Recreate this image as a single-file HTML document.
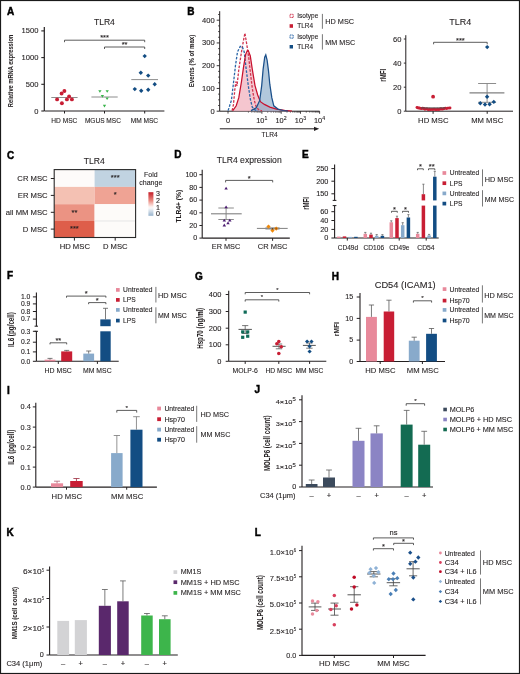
<!DOCTYPE html>
<html><head><meta charset="utf-8"><title>Figure</title>
<style>
html,body{margin:0;padding:0;background:#fff;}
body{width:520px;height:674px;overflow:hidden;}
svg{display:block;will-change:transform;}
text{font-family:"Liberation Sans", sans-serif;stroke:currentColor;stroke-width:0.1px;}
</style></head><body>
<svg width="520" height="674" viewBox="0 0 520 674">
<rect x="0" y="0" width="520" height="674" fill="#fff"/>
<text x="7" y="14.5" font-size="10" text-anchor="start" fill="#000" color="#000" font-weight="bold" style="stroke-width:0.45px">A</text>
<text x="104.4" y="25" font-size="8.7" text-anchor="middle" fill="#231f20" color="#231f20" textLength="21" lengthAdjust="spacingAndGlyphs">TLR4</text>
<line x1="44.3" y1="27" x2="44.3" y2="111" stroke="#231f20" stroke-width="1.2"/>
<line x1="41.3" y1="30.9" x2="44.3" y2="30.9" stroke="#231f20" stroke-width="1.08"/>
<text x="38.4" y="33.42" font-size="7" text-anchor="end" fill="#231f20" color="#231f20" textLength="16.82" lengthAdjust="spacingAndGlyphs">1500</text>
<line x1="41.3" y1="57.6" x2="44.3" y2="57.6" stroke="#231f20" stroke-width="1.08"/>
<text x="38.4" y="60.12" font-size="7" text-anchor="end" fill="#231f20" color="#231f20" textLength="16.82" lengthAdjust="spacingAndGlyphs">1000</text>
<line x1="41.3" y1="84.3" x2="44.3" y2="84.3" stroke="#231f20" stroke-width="1.08"/>
<text x="38.4" y="86.82" font-size="7" text-anchor="end" fill="#231f20" color="#231f20" textLength="12.61" lengthAdjust="spacingAndGlyphs">500</text>
<line x1="41.3" y1="111" x2="44.3" y2="111" stroke="#231f20" stroke-width="1.08"/>
<text x="38.4" y="113.52" font-size="7" text-anchor="end" fill="#231f20" color="#231f20" textLength="4.2" lengthAdjust="spacingAndGlyphs">0</text>
<text x="13.35" y="70.9" font-size="6.67" text-anchor="middle" fill="#231f20" color="#231f20" textLength="72.5" lengthAdjust="spacingAndGlyphs" transform="rotate(-90 13.35 70.9)" font-weight="bold" style="stroke-width:0.05px">Relative mRNA expression</text>
<line x1="44.5" y1="111" x2="164.4" y2="111" stroke="#231f20" stroke-width="1"/>
<line x1="64.5" y1="111" x2="64.5" y2="113.5" stroke="#231f20" stroke-width="1"/>
<line x1="104.5" y1="111" x2="104.5" y2="113.5" stroke="#231f20" stroke-width="1"/>
<line x1="144.7" y1="111" x2="144.7" y2="113.5" stroke="#231f20" stroke-width="1"/>
<text x="64.3" y="122.5" font-size="6.6" text-anchor="middle" fill="#231f20" color="#231f20" textLength="26" lengthAdjust="spacingAndGlyphs">HD MSC</text>
<text x="102.9" y="122.5" font-size="6.6" text-anchor="middle" fill="#231f20" color="#231f20" textLength="36" lengthAdjust="spacingAndGlyphs">MGUS MSC</text>
<text x="144.4" y="122.5" font-size="6.6" text-anchor="middle" fill="#231f20" color="#231f20" textLength="27.5" lengthAdjust="spacingAndGlyphs">MM MSC</text>
<path d="M64.5 42.2L64.5 40.2L144.7 40.2L144.7 42.2" stroke="#333" stroke-width="0.8" fill="none"/>
<text x="104.6" y="40.49" font-size="7" text-anchor="middle" fill="#231f20" color="#231f20" textLength="8.83" lengthAdjust="spacingAndGlyphs">***</text>
<path d="M104.5 49L104.5 47L144.7 47L144.7 49" stroke="#333" stroke-width="0.8" fill="none"/>
<text x="124.6" y="47.29" font-size="7" text-anchor="middle" fill="#231f20" color="#231f20" textLength="5.88" lengthAdjust="spacingAndGlyphs">**</text>
<line x1="51.3" y1="97.5" x2="77.6" y2="97.5" stroke="#808080" stroke-width="0.9"/>
<circle cx="64.4" cy="91" r="1.95" fill="#c81e34"/>
<circle cx="61.6" cy="93.5" r="1.95" fill="#c81e34"/>
<circle cx="69.1" cy="96.5" r="1.95" fill="#c81e34"/>
<circle cx="57.1" cy="99.4" r="1.95" fill="#c81e34"/>
<circle cx="66.9" cy="99.4" r="1.95" fill="#c81e34"/>
<circle cx="71.9" cy="99.4" r="1.95" fill="#c81e34"/>
<circle cx="61.9" cy="103.2" r="1.95" fill="#c81e34"/>
<line x1="91.4" y1="97" x2="117.7" y2="97" stroke="#808080" stroke-width="0.9"/>
<path d="M98.25 90.14L101.55 90.14L99.9 92.78Z" fill="#38b34a"/>
<path d="M105.55 90.14L108.85 90.14L107.2 92.78Z" fill="#38b34a"/>
<path d="M100.75 95.05L104.05 95.05L102.4 97.69Z" fill="#38b34a"/>
<path d="M105.45 97.44L108.75 97.44L107.1 100.08Z" fill="#38b34a"/>
<path d="M102.85 104.84L106.15 104.84L104.5 107.48Z" fill="#38b34a"/>
<path d="M144.7 53.9L146.9 56.1L144.7 58.3L142.5 56.1Z" fill="#134d83"/>
<path d="M140.8 70.5L143 72.7L140.8 74.9L138.6 72.7Z" fill="#134d83"/>
<path d="M148.2 73.4L150.4 75.6L148.2 77.8L146 75.6Z" fill="#134d83"/>
<path d="M154.7 82.1L156.9 84.3L154.7 86.5L152.5 84.3Z" fill="#134d83"/>
<path d="M134.8 86.9L137 89.1L134.8 91.3L132.6 89.1Z" fill="#134d83"/>
<path d="M141.2 88.6L143.4 90.8L141.2 93L139 90.8Z" fill="#134d83"/>
<path d="M148.2 87.5L150.4 89.7L148.2 91.9L146 89.7Z" fill="#134d83"/>
<line x1="131.3" y1="79.6" x2="158" y2="79.6" stroke="#808080" stroke-width="0.9"/>
<text x="187.3" y="14.5" font-size="10" text-anchor="start" fill="#000" color="#000" font-weight="bold" style="stroke-width:0.45px">B</text>
<line x1="219.7" y1="11.2" x2="219.7" y2="111.2" stroke="#231f20" stroke-width="1"/>
<line x1="216.7" y1="111.2" x2="219.7" y2="111.2" stroke="#231f20" stroke-width="0.9"/>
<text x="214.6" y="113.7" font-size="7" text-anchor="end" fill="#231f20" color="#231f20" textLength="4.2" lengthAdjust="spacingAndGlyphs">0</text>
<line x1="218.1" y1="105.51" x2="219.7" y2="105.51" stroke="#231f20" stroke-width="0.8"/>
<line x1="218.1" y1="99.83" x2="219.7" y2="99.83" stroke="#231f20" stroke-width="0.8"/>
<line x1="218.1" y1="94.14" x2="219.7" y2="94.14" stroke="#231f20" stroke-width="0.8"/>
<line x1="216.7" y1="88.45" x2="219.7" y2="88.45" stroke="#231f20" stroke-width="0.9"/>
<text x="214.6" y="90.95" font-size="7" text-anchor="end" fill="#231f20" color="#231f20" textLength="12.61" lengthAdjust="spacingAndGlyphs">100</text>
<line x1="218.1" y1="82.76" x2="219.7" y2="82.76" stroke="#231f20" stroke-width="0.8"/>
<line x1="218.1" y1="77.08" x2="219.7" y2="77.08" stroke="#231f20" stroke-width="0.8"/>
<line x1="218.1" y1="71.39" x2="219.7" y2="71.39" stroke="#231f20" stroke-width="0.8"/>
<line x1="216.7" y1="65.7" x2="219.7" y2="65.7" stroke="#231f20" stroke-width="0.9"/>
<text x="214.6" y="68.2" font-size="7" text-anchor="end" fill="#231f20" color="#231f20" textLength="12.61" lengthAdjust="spacingAndGlyphs">200</text>
<line x1="218.1" y1="60.01" x2="219.7" y2="60.01" stroke="#231f20" stroke-width="0.8"/>
<line x1="218.1" y1="54.33" x2="219.7" y2="54.33" stroke="#231f20" stroke-width="0.8"/>
<line x1="218.1" y1="48.64" x2="219.7" y2="48.64" stroke="#231f20" stroke-width="0.8"/>
<line x1="216.7" y1="42.95" x2="219.7" y2="42.95" stroke="#231f20" stroke-width="0.9"/>
<text x="214.6" y="45.45" font-size="7" text-anchor="end" fill="#231f20" color="#231f20" textLength="12.61" lengthAdjust="spacingAndGlyphs">300</text>
<line x1="218.1" y1="37.26" x2="219.7" y2="37.26" stroke="#231f20" stroke-width="0.8"/>
<line x1="218.1" y1="31.58" x2="219.7" y2="31.58" stroke="#231f20" stroke-width="0.8"/>
<line x1="218.1" y1="25.89" x2="219.7" y2="25.89" stroke="#231f20" stroke-width="0.8"/>
<line x1="216.7" y1="20.2" x2="219.7" y2="20.2" stroke="#231f20" stroke-width="0.9"/>
<text x="214.6" y="22.7" font-size="7" text-anchor="end" fill="#231f20" color="#231f20" textLength="12.61" lengthAdjust="spacingAndGlyphs">400</text>
<line x1="218.1" y1="14.51" x2="219.7" y2="14.51" stroke="#231f20" stroke-width="0.8"/>
<text x="194.1" y="61" font-size="8.05" text-anchor="middle" fill="#231f20" color="#231f20" textLength="52.4" lengthAdjust="spacingAndGlyphs" transform="rotate(-90 194.1 61)" font-weight="bold" style="stroke-width:0.05px">Events (% of max)</text>
<line x1="219.7" y1="111.2" x2="319.6" y2="111.2" stroke="#231f20" stroke-width="1"/>
<line x1="228" y1="111.2" x2="228" y2="113.6" stroke="#231f20" stroke-width="0.8"/>
<line x1="261.9" y1="111.2" x2="261.9" y2="113.8" stroke="#231f20" stroke-width="0.8"/>
<line x1="281.2" y1="111.2" x2="281.2" y2="113.8" stroke="#231f20" stroke-width="0.8"/>
<line x1="300.5" y1="111.2" x2="300.5" y2="113.8" stroke="#231f20" stroke-width="0.8"/>
<line x1="319.6" y1="111.2" x2="319.6" y2="113.8" stroke="#231f20" stroke-width="0.8"/>
<line x1="267.71" y1="111.2" x2="267.71" y2="112.7" stroke="#231f20" stroke-width="0.6"/>
<line x1="271.11" y1="111.2" x2="271.11" y2="112.7" stroke="#231f20" stroke-width="0.6"/>
<line x1="273.52" y1="111.2" x2="273.52" y2="112.7" stroke="#231f20" stroke-width="0.6"/>
<line x1="275.39" y1="111.2" x2="275.39" y2="112.7" stroke="#231f20" stroke-width="0.6"/>
<line x1="276.92" y1="111.2" x2="276.92" y2="112.7" stroke="#231f20" stroke-width="0.6"/>
<line x1="278.21" y1="111.2" x2="278.21" y2="112.7" stroke="#231f20" stroke-width="0.6"/>
<line x1="279.33" y1="111.2" x2="279.33" y2="112.7" stroke="#231f20" stroke-width="0.6"/>
<line x1="280.32" y1="111.2" x2="280.32" y2="112.7" stroke="#231f20" stroke-width="0.6"/>
<line x1="287.01" y1="111.2" x2="287.01" y2="112.7" stroke="#231f20" stroke-width="0.6"/>
<line x1="290.41" y1="111.2" x2="290.41" y2="112.7" stroke="#231f20" stroke-width="0.6"/>
<line x1="292.82" y1="111.2" x2="292.82" y2="112.7" stroke="#231f20" stroke-width="0.6"/>
<line x1="294.69" y1="111.2" x2="294.69" y2="112.7" stroke="#231f20" stroke-width="0.6"/>
<line x1="296.22" y1="111.2" x2="296.22" y2="112.7" stroke="#231f20" stroke-width="0.6"/>
<line x1="297.51" y1="111.2" x2="297.51" y2="112.7" stroke="#231f20" stroke-width="0.6"/>
<line x1="298.63" y1="111.2" x2="298.63" y2="112.7" stroke="#231f20" stroke-width="0.6"/>
<line x1="299.62" y1="111.2" x2="299.62" y2="112.7" stroke="#231f20" stroke-width="0.6"/>
<line x1="306.31" y1="111.2" x2="306.31" y2="112.7" stroke="#231f20" stroke-width="0.6"/>
<line x1="309.71" y1="111.2" x2="309.71" y2="112.7" stroke="#231f20" stroke-width="0.6"/>
<line x1="312.12" y1="111.2" x2="312.12" y2="112.7" stroke="#231f20" stroke-width="0.6"/>
<line x1="313.99" y1="111.2" x2="313.99" y2="112.7" stroke="#231f20" stroke-width="0.6"/>
<line x1="315.52" y1="111.2" x2="315.52" y2="112.7" stroke="#231f20" stroke-width="0.6"/>
<line x1="316.81" y1="111.2" x2="316.81" y2="112.7" stroke="#231f20" stroke-width="0.6"/>
<line x1="317.93" y1="111.2" x2="317.93" y2="112.7" stroke="#231f20" stroke-width="0.6"/>
<line x1="318.92" y1="111.2" x2="318.92" y2="112.7" stroke="#231f20" stroke-width="0.6"/>
<line x1="248.41" y1="111.2" x2="248.41" y2="112.7" stroke="#231f20" stroke-width="0.6"/>
<line x1="251.81" y1="111.2" x2="251.81" y2="112.7" stroke="#231f20" stroke-width="0.6"/>
<line x1="254.22" y1="111.2" x2="254.22" y2="112.7" stroke="#231f20" stroke-width="0.6"/>
<line x1="256.09" y1="111.2" x2="256.09" y2="112.7" stroke="#231f20" stroke-width="0.6"/>
<line x1="257.62" y1="111.2" x2="257.62" y2="112.7" stroke="#231f20" stroke-width="0.6"/>
<line x1="258.91" y1="111.2" x2="258.91" y2="112.7" stroke="#231f20" stroke-width="0.6"/>
<line x1="260.03" y1="111.2" x2="260.03" y2="112.7" stroke="#231f20" stroke-width="0.6"/>
<line x1="261.02" y1="111.2" x2="261.02" y2="112.7" stroke="#231f20" stroke-width="0.6"/>
<text x="228.1" y="122.8" font-size="6.8" text-anchor="middle" fill="#231f20" color="#231f20" textLength="4.08" lengthAdjust="spacingAndGlyphs">0</text>
<text x="260.3" y="122.8" font-size="6.6" text-anchor="middle" fill="#231f20" color="#231f20" textLength="8.2" lengthAdjust="spacingAndGlyphs">10</text>
<text x="266" y="119.6" font-size="4.8" text-anchor="middle" fill="#231f20" color="#231f20" textLength="2.88" lengthAdjust="spacingAndGlyphs">1</text>
<text x="279.6" y="122.8" font-size="6.6" text-anchor="middle" fill="#231f20" color="#231f20" textLength="8.2" lengthAdjust="spacingAndGlyphs">10</text>
<text x="285.3" y="119.6" font-size="4.8" text-anchor="middle" fill="#231f20" color="#231f20" textLength="2.88" lengthAdjust="spacingAndGlyphs">2</text>
<text x="298.9" y="122.8" font-size="6.6" text-anchor="middle" fill="#231f20" color="#231f20" textLength="8.2" lengthAdjust="spacingAndGlyphs">10</text>
<text x="304.6" y="119.6" font-size="4.8" text-anchor="middle" fill="#231f20" color="#231f20" textLength="2.88" lengthAdjust="spacingAndGlyphs">3</text>
<text x="318" y="122.8" font-size="6.6" text-anchor="middle" fill="#231f20" color="#231f20" textLength="8.2" lengthAdjust="spacingAndGlyphs">10</text>
<text x="323.7" y="119.6" font-size="4.8" text-anchor="middle" fill="#231f20" color="#231f20" textLength="2.88" lengthAdjust="spacingAndGlyphs">4</text>
<line x1="219.8" y1="128.8" x2="315" y2="128.8" stroke="#231f20" stroke-width="1"/>
<path d="M314 126.7L319.2 128.8L314 130.9Z" stroke="none" stroke-width="1" fill="#231f20"/>
<text x="269.6" y="137.3" font-size="7" text-anchor="middle" fill="#231f20" color="#231f20" textLength="16.2" lengthAdjust="spacingAndGlyphs">TLR4</text>
<path d="M232.8 110.6L236.2 105.8L238.8 97.7L241.5 81.5L243.6 66.7L245.6 54.6L247.2 50.8L248.3 50.6L250.3 56L252.3 69.4L255 85.6L257.7 95L260.4 101.7L264.4 104.4L269.8 107.1L276.5 109.1L284.6 110.4L292 111L292 111.2L232.8 111.2Z" stroke="none" stroke-width="1" fill="#f1b3bf" fill-opacity="0.75"/>
<path d="M251 110.6L256.3 107.8L259.7 100.4L261.7 85.6L263.1 69.4L264.7 57.3L265.8 54.9L267.1 60L268.5 70.8L269.8 84.2L271.8 97.7L273.8 105.8L277.9 109.1L283.3 110.5L288 111L288 111.2L251 111.2Z" stroke="none" stroke-width="1" fill="#7fa3c4" fill-opacity="0.6"/>
<path d="M232.1 110.6L233.5 104.4L234.8 89.6L235.9 81.5L237 86L238.8 69.4L241.5 51.9L243.6 39.8L244.9 33.1L246.9 45.2L248.9 58.6L250.3 72.1L252.3 88.3L254.3 100.4L256.3 107.1L259 110L262 110.8" stroke="#d0344f" stroke-width="1.3" fill="none" stroke-dasharray="2.6 1.4"/>
<path d="M228.1 110.6L231.4 100.4L233.5 82.9L235.5 65.4L237.5 51.9L240.2 46.5L242.2 46.5L244.2 51.9L246.2 69.4L248.3 85.6L250.3 99L252.3 107.1L255 110L258 110.8" stroke="#2b66a8" stroke-width="1.3" fill="none" stroke-dasharray="2.6 1.4"/>
<path d="M232.8 110.6L236.2 105.8L238.8 97.7L241.5 81.5L243.6 66.7L245.6 54.6L247.2 50.8L248.3 50.6L250.3 56L252.3 69.4L255 85.6L257.7 95L260.4 101.7L264.4 104.4L269.8 107.1L276.5 109.1L284.6 110.4L292 111" stroke="#c8102e" stroke-width="1.25" fill="none"/>
<path d="M251 110.6L256.3 107.8L259.7 100.4L261.7 85.6L263.1 69.4L264.7 57.3L265.8 54.9L267.1 60L268.5 70.8L269.8 84.2L271.8 97.7L273.8 105.8L277.9 109.1L283.3 110.5L288 111" stroke="#1a4f8a" stroke-width="1.25" fill="none"/>
<rect x="290" y="14.3" width="3.2" height="3.2" fill="none" stroke="#d0344f" stroke-width="0.9" stroke-dasharray="1.2 0.4"/>
<text x="297.3" y="18.3" font-size="6.51" text-anchor="start" fill="#231f20" color="#231f20" textLength="21" lengthAdjust="spacingAndGlyphs">Isotype</text>
<rect x="289.6" y="24.2" width="3.4" height="3.6" fill="#c81e34"/>
<text x="297.3" y="28.4" font-size="6.46" text-anchor="start" fill="#231f20" color="#231f20" textLength="15.8" lengthAdjust="spacingAndGlyphs">TLR4</text>
<line x1="322.4" y1="13.9" x2="322.4" y2="28.8" stroke="#555" stroke-width="0.8"/>
<text x="325.3" y="23.8" font-size="7.3" text-anchor="start" fill="#231f20" color="#231f20" textLength="28.8" lengthAdjust="spacingAndGlyphs">HD MSC</text>
<rect x="290" y="35" width="3.2" height="3.2" fill="none" stroke="#2b66a8" stroke-width="0.9" stroke-dasharray="1.2 0.4"/>
<text x="297.3" y="39" font-size="6.51" text-anchor="start" fill="#231f20" color="#231f20" textLength="21" lengthAdjust="spacingAndGlyphs">Isotype</text>
<rect x="289.6" y="45" width="3.4" height="3.5" fill="#134d83"/>
<text x="297.3" y="49.2" font-size="6.46" text-anchor="start" fill="#231f20" color="#231f20" textLength="15.8" lengthAdjust="spacingAndGlyphs">TLR4</text>
<line x1="322.4" y1="34.2" x2="322.4" y2="49.6" stroke="#555" stroke-width="0.8"/>
<text x="325.3" y="44.5" font-size="7.2" text-anchor="start" fill="#231f20" color="#231f20" textLength="30" lengthAdjust="spacingAndGlyphs">MM MSC</text>
<text x="460.3" y="24.6" font-size="8.8" text-anchor="middle" fill="#231f20" color="#231f20" textLength="22" lengthAdjust="spacingAndGlyphs">TLR4</text>
<line x1="405.8" y1="35.2" x2="405.8" y2="111.2" stroke="#231f20" stroke-width="1"/>
<line x1="403.8" y1="39" x2="405.8" y2="39" stroke="#231f20" stroke-width="0.9"/>
<text x="401.4" y="41.52" font-size="7" text-anchor="end" fill="#231f20" color="#231f20" textLength="8.41" lengthAdjust="spacingAndGlyphs">60</text>
<line x1="403.8" y1="63.1" x2="405.8" y2="63.1" stroke="#231f20" stroke-width="0.9"/>
<text x="401.4" y="65.62" font-size="7" text-anchor="end" fill="#231f20" color="#231f20" textLength="8.41" lengthAdjust="spacingAndGlyphs">40</text>
<line x1="403.8" y1="87.2" x2="405.8" y2="87.2" stroke="#231f20" stroke-width="0.9"/>
<text x="401.4" y="89.72" font-size="7" text-anchor="end" fill="#231f20" color="#231f20" textLength="8.41" lengthAdjust="spacingAndGlyphs">20</text>
<line x1="403.8" y1="111.2" x2="405.8" y2="111.2" stroke="#231f20" stroke-width="0.9"/>
<text x="401.4" y="113.72" font-size="7" text-anchor="end" fill="#231f20" color="#231f20" textLength="4.2" lengthAdjust="spacingAndGlyphs">0</text>
<text x="386" y="75.3" font-size="9.11" text-anchor="middle" fill="#231f20" color="#231f20" textLength="12.8" lengthAdjust="spacingAndGlyphs" transform="rotate(-90 386 75.3)" font-weight="bold" style="stroke-width:0.05px">rMFI</text>
<line x1="405.8" y1="111.2" x2="513" y2="111.2" stroke="#231f20" stroke-width="1"/>
<line x1="433.1" y1="111.2" x2="433.1" y2="113.8" stroke="#231f20" stroke-width="1"/>
<line x1="487.2" y1="111.2" x2="487.2" y2="113.8" stroke="#231f20" stroke-width="1"/>
<text x="433.3" y="123.1" font-size="7.4" text-anchor="middle" fill="#231f20" color="#231f20" textLength="30.5" lengthAdjust="spacingAndGlyphs">HD MSC</text>
<text x="487.2" y="123.1" font-size="7.4" text-anchor="middle" fill="#231f20" color="#231f20" textLength="32" lengthAdjust="spacingAndGlyphs">MM MSC</text>
<path d="M433.6 44.3L433.6 42.3L487.2 42.3L487.2 44.3" stroke="#333" stroke-width="0.8" fill="none"/>
<text x="460.4" y="42.59" font-size="7" text-anchor="middle" fill="#231f20" color="#231f20" textLength="8.83" lengthAdjust="spacingAndGlyphs">***</text>
<circle cx="417" cy="107.49" r="1.45" fill="#c81e34"/>
<circle cx="418.14" cy="107.96" r="1.45" fill="#c81e34"/>
<circle cx="419.28" cy="108.03" r="1.45" fill="#c81e34"/>
<circle cx="420.41" cy="108.41" r="1.45" fill="#c81e34"/>
<circle cx="421.55" cy="108.61" r="1.45" fill="#c81e34"/>
<circle cx="422.69" cy="108.32" r="1.45" fill="#c81e34"/>
<circle cx="423.83" cy="108.43" r="1.45" fill="#c81e34"/>
<circle cx="424.97" cy="109.22" r="1.45" fill="#c81e34"/>
<circle cx="426.1" cy="108.87" r="1.45" fill="#c81e34"/>
<circle cx="427.24" cy="108.94" r="1.45" fill="#c81e34"/>
<circle cx="428.38" cy="109.63" r="1.45" fill="#c81e34"/>
<circle cx="429.52" cy="109.28" r="1.45" fill="#c81e34"/>
<circle cx="430.66" cy="109.62" r="1.45" fill="#c81e34"/>
<circle cx="431.79" cy="109.36" r="1.45" fill="#c81e34"/>
<circle cx="432.93" cy="109.51" r="1.45" fill="#c81e34"/>
<circle cx="434.07" cy="109.12" r="1.45" fill="#c81e34"/>
<circle cx="435.21" cy="109.49" r="1.45" fill="#c81e34"/>
<circle cx="436.34" cy="109.64" r="1.45" fill="#c81e34"/>
<circle cx="437.48" cy="109.32" r="1.45" fill="#c81e34"/>
<circle cx="438.62" cy="109.43" r="1.45" fill="#c81e34"/>
<circle cx="439.76" cy="109.29" r="1.45" fill="#c81e34"/>
<circle cx="440.9" cy="108.71" r="1.45" fill="#c81e34"/>
<circle cx="442.03" cy="109.15" r="1.45" fill="#c81e34"/>
<circle cx="443.17" cy="108.89" r="1.45" fill="#c81e34"/>
<circle cx="444.31" cy="108.51" r="1.45" fill="#c81e34"/>
<circle cx="445.45" cy="108.13" r="1.45" fill="#c81e34"/>
<circle cx="446.59" cy="108.62" r="1.45" fill="#c81e34"/>
<circle cx="447.72" cy="108.11" r="1.45" fill="#c81e34"/>
<circle cx="448.86" cy="108.1" r="1.45" fill="#c81e34"/>
<circle cx="450" cy="108" r="1.45" fill="#c81e34"/>
<circle cx="433.1" cy="96.7" r="1.9" fill="#c81e34"/>
<line x1="421" y1="107.9" x2="445.5" y2="107.9" stroke="#505050" stroke-width="1"/>
<line x1="487.1" y1="83.5" x2="487.1" y2="102.3" stroke="#808080" stroke-width="0.9"/>
<line x1="478.1" y1="83.5" x2="496.1" y2="83.5" stroke="#808080" stroke-width="0.9"/>
<line x1="478.1" y1="102.3" x2="496.1" y2="102.3" stroke="#808080" stroke-width="0.9"/>
<line x1="469.5" y1="92.9" x2="504.4" y2="92.9" stroke="#808080" stroke-width="1.1"/>
<path d="M487.2 44.9L489.4 47.1L487.2 49.3L485 47.1Z" fill="#134d83"/>
<path d="M487.1 94.6L489.3 96.8L487.1 99L484.9 96.8Z" fill="#134d83"/>
<path d="M480.3 101.1L482.5 103.3L480.3 105.5L478.1 103.3Z" fill="#134d83"/>
<path d="M485 102.3L487.2 104.5L485 106.7L482.8 104.5Z" fill="#134d83"/>
<path d="M489.6 102.1L491.8 104.3L489.6 106.5L487.4 104.3Z" fill="#134d83"/>
<path d="M493.8 99.7L496 101.9L493.8 104.1L491.6 101.9Z" fill="#134d83"/>
<text x="6.9" y="158.6" font-size="10" text-anchor="start" fill="#000" color="#000" font-weight="bold" style="stroke-width:0.45px">C</text>
<text x="94.2" y="163.5" font-size="8.7" text-anchor="middle" fill="#231f20" color="#231f20" textLength="21" lengthAdjust="spacingAndGlyphs">TLR4</text>
<rect x="54.2" y="169.6" width="40.4" height="17.3" fill="#fdfbfa"/>
<rect x="94.6" y="169.6" width="41" height="17.3" fill="#c1d3e1"/>
<rect x="54.2" y="186.9" width="40.4" height="17.3" fill="#f4c1b3"/>
<rect x="94.6" y="186.9" width="41" height="17.3" fill="#efa394"/>
<rect x="54.2" y="204.2" width="40.4" height="16.8" fill="#eb9383"/>
<rect x="94.6" y="204.2" width="41" height="16.8" fill="#fdfbf9"/>
<rect x="54.2" y="221" width="40.4" height="16.5" fill="#de5e4a"/>
<rect x="94.6" y="221" width="41" height="16.5" fill="#fdfbf9"/>
<line x1="94.6" y1="221" x2="135.6" y2="221" stroke="#d8d8d8" stroke-width="0.6"/>
<rect x="54.2" y="169.6" width="81.4" height="67.9" fill="none" stroke="#2a2a2a" stroke-width="1.1"/>
<text x="115.2" y="180.49" font-size="7" text-anchor="middle" fill="#231f20" color="#231f20" textLength="8.83" lengthAdjust="spacingAndGlyphs">***</text>
<text x="115.2" y="197.29" font-size="7" text-anchor="middle" fill="#231f20" color="#231f20" textLength="2.94" lengthAdjust="spacingAndGlyphs">*</text>
<text x="74.4" y="214.59" font-size="7" text-anchor="middle" fill="#231f20" color="#231f20" textLength="5.88" lengthAdjust="spacingAndGlyphs">**</text>
<text x="74.4" y="230.89" font-size="7" text-anchor="middle" fill="#231f20" color="#231f20" textLength="8.83" lengthAdjust="spacingAndGlyphs">***</text>
<line x1="50.8" y1="178.5" x2="54.2" y2="178.5" stroke="#231f20" stroke-width="1"/>
<text x="47.6" y="181.1" font-size="7.1" text-anchor="end" fill="#231f20" color="#231f20" textLength="30.25" lengthAdjust="spacingAndGlyphs">CR MSC</text>
<line x1="50.8" y1="195.4" x2="54.2" y2="195.4" stroke="#231f20" stroke-width="1"/>
<text x="47.6" y="198" font-size="7.1" text-anchor="end" fill="#231f20" color="#231f20" textLength="29.82" lengthAdjust="spacingAndGlyphs">ER MSC</text>
<line x1="50.8" y1="212.3" x2="54.2" y2="212.3" stroke="#231f20" stroke-width="1"/>
<text x="47.6" y="214.9" font-size="7.1" text-anchor="end" fill="#231f20" color="#231f20" textLength="41.75" lengthAdjust="spacingAndGlyphs">all MM MSC</text>
<line x1="50.8" y1="229.1" x2="54.2" y2="229.1" stroke="#231f20" stroke-width="1"/>
<text x="47.6" y="231.7" font-size="7.1" text-anchor="end" fill="#231f20" color="#231f20" textLength="24.71" lengthAdjust="spacingAndGlyphs">D MSC</text>
<line x1="74.4" y1="237.5" x2="74.4" y2="240.6" stroke="#231f20" stroke-width="1"/>
<line x1="115.2" y1="237.5" x2="115.2" y2="240.6" stroke="#231f20" stroke-width="1"/>
<text x="74.8" y="249.3" font-size="7.1" text-anchor="middle" fill="#231f20" color="#231f20" textLength="30.3" lengthAdjust="spacingAndGlyphs">HD MSC</text>
<text x="115.2" y="249.3" font-size="7.1" text-anchor="middle" fill="#231f20" color="#231f20" textLength="24.6" lengthAdjust="spacingAndGlyphs">D MSC</text>
<text x="150.8" y="176.8" font-size="7.2" text-anchor="middle" fill="#231f20" color="#231f20" textLength="13.5" lengthAdjust="spacingAndGlyphs">Fold</text>
<text x="150.8" y="185.4" font-size="7.2" text-anchor="middle" fill="#231f20" color="#231f20" textLength="23.2" lengthAdjust="spacingAndGlyphs">change</text>
<defs><linearGradient id="fc" x1="0" y1="0" x2="0" y2="1"><stop offset="0" stop-color="#c51f2b"/><stop offset="0.35" stop-color="#ea8a80"/><stop offset="0.62" stop-color="#fdf2ef"/><stop offset="0.68" stop-color="#f6f7f9"/><stop offset="1" stop-color="#97b3cd"/></linearGradient></defs>
<rect x="148.4" y="192.2" width="5" height="23.6" fill="url(#fc)"/>
<text x="157.9" y="195.7" font-size="6.6" text-anchor="middle" fill="#231f20" color="#231f20" textLength="3.96" lengthAdjust="spacingAndGlyphs">3</text>
<text x="157.9" y="203" font-size="6.6" text-anchor="middle" fill="#231f20" color="#231f20" textLength="3.96" lengthAdjust="spacingAndGlyphs">2</text>
<text x="157.9" y="210" font-size="6.6" text-anchor="middle" fill="#231f20" color="#231f20" textLength="3.96" lengthAdjust="spacingAndGlyphs">1</text>
<text x="157.9" y="216.2" font-size="6.6" text-anchor="middle" fill="#231f20" color="#231f20" textLength="3.96" lengthAdjust="spacingAndGlyphs">0</text>
<text x="174.3" y="158.3" font-size="10" text-anchor="start" fill="#000" color="#000" font-weight="bold" style="stroke-width:0.45px">D</text>
<text x="249.2" y="163" font-size="8.7" text-anchor="middle" fill="#231f20" color="#231f20" textLength="65" lengthAdjust="spacingAndGlyphs">TLR4 expression</text>
<line x1="202.2" y1="169.7" x2="202.2" y2="238.1" stroke="#231f20" stroke-width="1.1"/>
<line x1="199.4" y1="174.7" x2="202.2" y2="174.7" stroke="#231f20" stroke-width="0.99"/>
<text x="197.3" y="177.08" font-size="6.6" text-anchor="end" fill="#231f20" color="#231f20" textLength="11.89" lengthAdjust="spacingAndGlyphs">100</text>
<line x1="199.4" y1="187.4" x2="202.2" y2="187.4" stroke="#231f20" stroke-width="0.99"/>
<text x="197.3" y="189.78" font-size="6.6" text-anchor="end" fill="#231f20" color="#231f20" textLength="7.93" lengthAdjust="spacingAndGlyphs">80</text>
<line x1="199.4" y1="200.1" x2="202.2" y2="200.1" stroke="#231f20" stroke-width="0.99"/>
<text x="197.3" y="202.48" font-size="6.6" text-anchor="end" fill="#231f20" color="#231f20" textLength="7.93" lengthAdjust="spacingAndGlyphs">60</text>
<line x1="199.4" y1="212.8" x2="202.2" y2="212.8" stroke="#231f20" stroke-width="0.99"/>
<text x="197.3" y="215.18" font-size="6.6" text-anchor="end" fill="#231f20" color="#231f20" textLength="7.93" lengthAdjust="spacingAndGlyphs">40</text>
<line x1="199.4" y1="225.5" x2="202.2" y2="225.5" stroke="#231f20" stroke-width="0.99"/>
<text x="197.3" y="227.88" font-size="6.6" text-anchor="end" fill="#231f20" color="#231f20" textLength="7.93" lengthAdjust="spacingAndGlyphs">20</text>
<line x1="199.4" y1="238.1" x2="202.2" y2="238.1" stroke="#231f20" stroke-width="0.99"/>
<text x="197.3" y="240.48" font-size="6.6" text-anchor="end" fill="#231f20" color="#231f20" textLength="3.96" lengthAdjust="spacingAndGlyphs">0</text>
<text x="181.3" y="206.2" font-size="7.92" text-anchor="middle" fill="#231f20" color="#231f20" textLength="32.6" lengthAdjust="spacingAndGlyphs" transform="rotate(-90 181.3 206.2)" font-weight="bold" style="stroke-width:0.05px">TLR4+ (%)</text>
<line x1="202.2" y1="238.1" x2="289.8" y2="238.1" stroke="#231f20" stroke-width="1.1"/>
<line x1="226" y1="238.1" x2="226" y2="240.8" stroke="#231f20" stroke-width="1"/>
<line x1="272.6" y1="238.1" x2="272.6" y2="240.8" stroke="#231f20" stroke-width="1"/>
<text x="226" y="249" font-size="7" text-anchor="middle" fill="#231f20" color="#231f20" textLength="28.5" lengthAdjust="spacingAndGlyphs">ER MSC</text>
<text x="272.6" y="249" font-size="7" text-anchor="middle" fill="#231f20" color="#231f20" textLength="29.6" lengthAdjust="spacingAndGlyphs">CR MSC</text>
<path d="M225.6 182.4L225.6 180.4L272.7 180.4L272.7 182.4" stroke="#333" stroke-width="0.8" fill="none"/>
<text x="249.15" y="180.69" font-size="7" text-anchor="middle" fill="#231f20" color="#231f20" textLength="2.94" lengthAdjust="spacingAndGlyphs">*</text>
<line x1="211" y1="213.8" x2="241.7" y2="213.8" stroke="#808080" stroke-width="1.1"/>
<line x1="226.1" y1="208" x2="226.1" y2="219.5" stroke="#808080" stroke-width="0.9"/>
<line x1="218.35" y1="208" x2="233.85" y2="208" stroke="#808080" stroke-width="0.9"/>
<line x1="218.35" y1="219.5" x2="233.85" y2="219.5" stroke="#808080" stroke-width="0.9"/>
<path d="M224.35 189.53L227.85 189.53L226.1 186.73Z" fill="#4b1a70"/>
<path d="M224.35 208.32L227.85 208.32L226.1 205.53Z" fill="#4b1a70"/>
<path d="M222.55 221.62L226.05 221.62L224.3 218.83Z" fill="#4b1a70"/>
<path d="M228.05 221.62L231.55 221.62L229.8 218.83Z" fill="#4b1a70"/>
<path d="M226.25 224.22L229.75 224.22L228 221.43Z" fill="#4b1a70"/>
<path d="M222.55 226.42L226.05 226.42L224.3 223.62Z" fill="#4b1a70"/>
<line x1="256.9" y1="228.4" x2="287.7" y2="228.4" stroke="#808080" stroke-width="1"/>
<rect x="265.4" y="227.4" width="14.2" height="2.1" fill="#8a8a8a"/>
<path d="M268.5 224.5L270.6 226.6L268.5 228.7L266.4 226.6Z" fill="#f0890a"/>
<path d="M272.5 228.5L274.6 230.6L272.5 232.7L270.4 230.6Z" fill="#f0890a"/>
<path d="M276.2 226.5L278.3 228.6L276.2 230.7L274.1 228.6Z" fill="#f0890a"/>
<path d="M271.4 229.57L273.6 229.57L272.5 227.81Z" fill="#5a3a1a"/>
<path d="M276.2 227.4L277.4 228.6L276.2 229.8L275 228.6Z" fill="#a85a10"/>
<text x="301.9" y="158.4" font-size="10" text-anchor="start" fill="#000" color="#000" font-weight="bold" style="stroke-width:0.45px">E</text>
<line x1="334.6" y1="164.4" x2="334.6" y2="200.4" stroke="#231f20" stroke-width="1.1"/>
<line x1="332.7" y1="200.4" x2="336.4" y2="200.4" stroke="#231f20" stroke-width="1"/>
<line x1="332.7" y1="205.6" x2="336.4" y2="205.6" stroke="#231f20" stroke-width="1"/>
<line x1="334.6" y1="205.6" x2="334.6" y2="238" stroke="#231f20" stroke-width="1.1"/>
<line x1="331.4" y1="168.6" x2="334.6" y2="168.6" stroke="#231f20" stroke-width="1"/>
<text x="328.4" y="171" font-size="6.8" text-anchor="end" fill="#231f20" color="#231f20" textLength="12.25" lengthAdjust="spacingAndGlyphs">250</text>
<line x1="331.4" y1="181.2" x2="334.6" y2="181.2" stroke="#231f20" stroke-width="1"/>
<text x="328.4" y="183.6" font-size="6.8" text-anchor="end" fill="#231f20" color="#231f20" textLength="12.25" lengthAdjust="spacingAndGlyphs">200</text>
<line x1="331.4" y1="193.8" x2="334.6" y2="193.8" stroke="#231f20" stroke-width="1"/>
<text x="328.4" y="196.2" font-size="6.8" text-anchor="end" fill="#231f20" color="#231f20" textLength="12.25" lengthAdjust="spacingAndGlyphs">150</text>
<line x1="331.4" y1="211.7" x2="334.6" y2="211.7" stroke="#231f20" stroke-width="1"/>
<text x="328.4" y="214.1" font-size="6.8" text-anchor="end" fill="#231f20" color="#231f20" textLength="8.17" lengthAdjust="spacingAndGlyphs">60</text>
<line x1="331.4" y1="220.5" x2="334.6" y2="220.5" stroke="#231f20" stroke-width="1"/>
<text x="328.4" y="222.9" font-size="6.8" text-anchor="end" fill="#231f20" color="#231f20" textLength="8.17" lengthAdjust="spacingAndGlyphs">40</text>
<line x1="331.4" y1="229.4" x2="334.6" y2="229.4" stroke="#231f20" stroke-width="1"/>
<text x="328.4" y="231.8" font-size="6.8" text-anchor="end" fill="#231f20" color="#231f20" textLength="8.17" lengthAdjust="spacingAndGlyphs">20</text>
<line x1="331.4" y1="238" x2="334.6" y2="238" stroke="#231f20" stroke-width="1"/>
<text x="328.4" y="240.4" font-size="6.8" text-anchor="end" fill="#231f20" color="#231f20" textLength="4.08" lengthAdjust="spacingAndGlyphs">0</text>
<text x="309.1" y="203.4" font-size="8.58" text-anchor="middle" fill="#231f20" color="#231f20" textLength="12.7" lengthAdjust="spacingAndGlyphs" transform="rotate(-90 309.1 203.4)" font-weight="bold" style="stroke-width:0.05px">rMFI</text>
<line x1="334.6" y1="238" x2="438.7" y2="238" stroke="#231f20" stroke-width="1.1"/>
<line x1="347.3" y1="238" x2="347.3" y2="240.6" stroke="#231f20" stroke-width="1"/>
<line x1="373.8" y1="238" x2="373.8" y2="240.6" stroke="#231f20" stroke-width="1"/>
<line x1="399.2" y1="238" x2="399.2" y2="240.6" stroke="#231f20" stroke-width="1"/>
<line x1="426.2" y1="238" x2="426.2" y2="240.6" stroke="#231f20" stroke-width="1"/>
<text x="347.9" y="249.7" font-size="6.6" text-anchor="middle" fill="#231f20" color="#231f20" textLength="20.4" lengthAdjust="spacingAndGlyphs">CD49d</text>
<text x="373.8" y="249.7" font-size="6.6" text-anchor="middle" fill="#231f20" color="#231f20" textLength="20.5" lengthAdjust="spacingAndGlyphs">CD106</text>
<text x="399.3" y="249.7" font-size="6.6" text-anchor="middle" fill="#231f20" color="#231f20" textLength="20.3" lengthAdjust="spacingAndGlyphs">CD49e</text>
<text x="425.9" y="249.7" font-size="6.6" text-anchor="middle" fill="#231f20" color="#231f20" textLength="17.2" lengthAdjust="spacingAndGlyphs">CD54</text>
<rect x="337.05" y="236.6" width="3.5" height="1.4" fill="#e8899b"/>
<rect x="342.75" y="236.4" width="3.5" height="1.6" fill="#c81e34"/>
<rect x="348.45" y="236.9" width="3.5" height="1.1" fill="#88aacb"/>
<rect x="354.15" y="236.8" width="3.5" height="1.2" fill="#134d83"/>
<rect x="363.55" y="233.8" width="3.5" height="4.2" fill="#e8899b"/>
<line x1="365.3" y1="232.4" x2="365.3" y2="233.8" stroke="#5a5a5a" stroke-width="0.7"/>
<line x1="364.2" y1="232.4" x2="366.4" y2="232.4" stroke="#5a5a5a" stroke-width="0.7"/>
<rect x="369.25" y="234.6" width="3.5" height="3.4" fill="#c81e34"/>
<line x1="371" y1="233.2" x2="371" y2="234.6" stroke="#5a5a5a" stroke-width="0.7"/>
<line x1="369.9" y1="233.2" x2="372.1" y2="233.2" stroke="#5a5a5a" stroke-width="0.7"/>
<rect x="374.95" y="235.8" width="3.5" height="2.2" fill="#88aacb"/>
<line x1="376.7" y1="234.6" x2="376.7" y2="235.8" stroke="#5a5a5a" stroke-width="0.7"/>
<line x1="375.6" y1="234.6" x2="377.8" y2="234.6" stroke="#5a5a5a" stroke-width="0.7"/>
<rect x="380.65" y="235.8" width="3.5" height="2.2" fill="#134d83"/>
<line x1="382.4" y1="234.6" x2="382.4" y2="235.8" stroke="#5a5a5a" stroke-width="0.7"/>
<line x1="381.3" y1="234.6" x2="383.5" y2="234.6" stroke="#5a5a5a" stroke-width="0.7"/>
<rect x="389.55" y="222.3" width="3.5" height="15.7" fill="#e8899b"/>
<line x1="391.3" y1="220.8" x2="391.3" y2="222.3" stroke="#5a5a5a" stroke-width="0.7"/>
<line x1="390.2" y1="220.8" x2="392.4" y2="220.8" stroke="#5a5a5a" stroke-width="0.7"/>
<rect x="395.25" y="218.1" width="3.5" height="19.9" fill="#c81e34"/>
<line x1="397" y1="216.2" x2="397" y2="218.1" stroke="#5a5a5a" stroke-width="0.7"/>
<line x1="395.9" y1="216.2" x2="398.1" y2="216.2" stroke="#5a5a5a" stroke-width="0.7"/>
<rect x="400.95" y="225.2" width="3.5" height="12.8" fill="#88aacb"/>
<line x1="402.7" y1="222.7" x2="402.7" y2="225.2" stroke="#5a5a5a" stroke-width="0.7"/>
<line x1="401.6" y1="222.7" x2="403.8" y2="222.7" stroke="#5a5a5a" stroke-width="0.7"/>
<rect x="406.65" y="217.5" width="3.5" height="20.5" fill="#134d83"/>
<line x1="408.4" y1="214.6" x2="408.4" y2="217.5" stroke="#5a5a5a" stroke-width="0.7"/>
<line x1="407.3" y1="214.6" x2="409.5" y2="214.6" stroke="#5a5a5a" stroke-width="0.7"/>
<rect x="415.95" y="233.8" width="3.5" height="4.2" fill="#e8899b"/>
<line x1="417.7" y1="232.4" x2="417.7" y2="233.8" stroke="#5a5a5a" stroke-width="0.7"/>
<line x1="416.6" y1="232.4" x2="418.8" y2="232.4" stroke="#5a5a5a" stroke-width="0.7"/>
<rect x="427.35" y="235.4" width="3.5" height="2.6" fill="#88aacb"/>
<line x1="429.1" y1="234.4" x2="429.1" y2="235.4" stroke="#5a5a5a" stroke-width="0.7"/>
<line x1="428" y1="234.4" x2="430.2" y2="234.4" stroke="#5a5a5a" stroke-width="0.7"/>
<rect x="421.65" y="205.6" width="3.5" height="32.4" fill="#c81e34"/>
<rect x="421.65" y="194.2" width="3.5" height="6.2" fill="#c81e34"/>
<line x1="423.4" y1="184.2" x2="423.4" y2="194.2" stroke="#5a5a5a" stroke-width="0.7"/>
<line x1="422.3" y1="184.2" x2="424.5" y2="184.2" stroke="#5a5a5a" stroke-width="0.7"/>
<rect x="433.05" y="205.6" width="3.5" height="32.4" fill="#134d83"/>
<rect x="433.05" y="176.7" width="3.5" height="23.7" fill="#134d83"/>
<line x1="434.8" y1="171.3" x2="434.8" y2="176.7" stroke="#5a5a5a" stroke-width="0.7"/>
<line x1="433.7" y1="171.3" x2="435.9" y2="171.3" stroke="#5a5a5a" stroke-width="0.7"/>
<path d="M391.5 212.7L391.5 211.3L397.3 211.3L397.3 212.7" stroke="#333" stroke-width="0.8" fill="none"/>
<text x="394.4" y="211.59" font-size="7" text-anchor="middle" fill="#231f20" color="#231f20" textLength="2.94" lengthAdjust="spacingAndGlyphs">*</text>
<path d="M402.5 212.7L402.5 211.3L408.5 211.3L408.5 212.7" stroke="#333" stroke-width="0.8" fill="none"/>
<text x="405.5" y="211.59" font-size="7" text-anchor="middle" fill="#231f20" color="#231f20" textLength="2.94" lengthAdjust="spacingAndGlyphs">*</text>
<path d="M417.5 170.2L417.5 168.8L423.3 168.8L423.3 170.2" stroke="#333" stroke-width="0.8" fill="none"/>
<text x="420.4" y="169.09" font-size="7" text-anchor="middle" fill="#231f20" color="#231f20" textLength="2.94" lengthAdjust="spacingAndGlyphs">*</text>
<path d="M428.5 170.2L428.5 168.8L434.8 168.8L434.8 170.2" stroke="#333" stroke-width="0.8" fill="none"/>
<text x="431.65" y="169.09" font-size="7" text-anchor="middle" fill="#231f20" color="#231f20" textLength="5.88" lengthAdjust="spacingAndGlyphs">**</text>
<rect x="442.5" y="171.15" width="3.7" height="3.7" fill="#e8899b"/>
<text x="449.8" y="175.4" font-size="6.69" text-anchor="start" fill="#231f20" color="#231f20" textLength="29.4" lengthAdjust="spacingAndGlyphs">Untreated</text>
<rect x="442.5" y="181.35" width="3.7" height="3.7" fill="#c81e34"/>
<text x="449.8" y="185.6" font-size="6.67" text-anchor="start" fill="#231f20" color="#231f20" textLength="12.6" lengthAdjust="spacingAndGlyphs">LPS</text>
<rect x="442.5" y="191.55" width="3.7" height="3.7" fill="#88aacb"/>
<text x="449.8" y="195.8" font-size="6.69" text-anchor="start" fill="#231f20" color="#231f20" textLength="29.4" lengthAdjust="spacingAndGlyphs">Untreated</text>
<rect x="442.5" y="201.75" width="3.7" height="3.7" fill="#134d83"/>
<text x="449.8" y="206" font-size="6.67" text-anchor="start" fill="#231f20" color="#231f20" textLength="12.6" lengthAdjust="spacingAndGlyphs">LPS</text>
<line x1="482.5" y1="169.4" x2="482.5" y2="186.2" stroke="#555" stroke-width="0.8"/>
<text x="484.8" y="181.5" font-size="7.3" text-anchor="start" fill="#231f20" color="#231f20" textLength="28.8" lengthAdjust="spacingAndGlyphs">HD MSC</text>
<line x1="482.5" y1="190.2" x2="482.5" y2="206.5" stroke="#555" stroke-width="0.8"/>
<text x="484.8" y="201.9" font-size="7.01" text-anchor="start" fill="#231f20" color="#231f20" textLength="29.2" lengthAdjust="spacingAndGlyphs">MM MSC</text>
<text x="7.1" y="279.4" font-size="10" text-anchor="start" fill="#000" color="#000" font-weight="bold" style="stroke-width:0.45px">F</text>
<line x1="36.4" y1="292.5" x2="36.4" y2="326.2" stroke="#231f20" stroke-width="1.1"/>
<line x1="34.6" y1="326.2" x2="38" y2="326.2" stroke="#231f20" stroke-width="1"/>
<line x1="34.6" y1="331.3" x2="38" y2="331.3" stroke="#231f20" stroke-width="1"/>
<line x1="36.4" y1="331.3" x2="36.4" y2="361.3" stroke="#231f20" stroke-width="1.1"/>
<line x1="32.9" y1="296.9" x2="36.4" y2="296.9" stroke="#231f20" stroke-width="1"/>
<text x="30.4" y="299.1" font-size="6.3" text-anchor="end" fill="#231f20" color="#231f20" textLength="9.46" lengthAdjust="spacingAndGlyphs">1.0</text>
<line x1="32.9" y1="303.9" x2="36.4" y2="303.9" stroke="#231f20" stroke-width="1"/>
<text x="30.4" y="306.1" font-size="6.3" text-anchor="end" fill="#231f20" color="#231f20" textLength="9.46" lengthAdjust="spacingAndGlyphs">0.9</text>
<line x1="32.9" y1="311.5" x2="36.4" y2="311.5" stroke="#231f20" stroke-width="1"/>
<text x="30.4" y="313.7" font-size="6.3" text-anchor="end" fill="#231f20" color="#231f20" textLength="9.46" lengthAdjust="spacingAndGlyphs">0.8</text>
<line x1="32.9" y1="319.1" x2="36.4" y2="319.1" stroke="#231f20" stroke-width="1"/>
<text x="30.4" y="321.3" font-size="6.3" text-anchor="end" fill="#231f20" color="#231f20" textLength="9.46" lengthAdjust="spacingAndGlyphs">0.7</text>
<line x1="32.9" y1="331.3" x2="36.4" y2="331.3" stroke="#231f20" stroke-width="1"/>
<text x="30.4" y="333.5" font-size="6.3" text-anchor="end" fill="#231f20" color="#231f20" textLength="9.46" lengthAdjust="spacingAndGlyphs">0.3</text>
<line x1="32.9" y1="342.2" x2="36.4" y2="342.2" stroke="#231f20" stroke-width="1"/>
<text x="30.4" y="344.4" font-size="6.3" text-anchor="end" fill="#231f20" color="#231f20" textLength="9.46" lengthAdjust="spacingAndGlyphs">0.2</text>
<line x1="32.9" y1="351.9" x2="36.4" y2="351.9" stroke="#231f20" stroke-width="1"/>
<text x="30.4" y="354.1" font-size="6.3" text-anchor="end" fill="#231f20" color="#231f20" textLength="9.46" lengthAdjust="spacingAndGlyphs">0.1</text>
<line x1="32.9" y1="361.3" x2="36.4" y2="361.3" stroke="#231f20" stroke-width="1"/>
<text x="30.4" y="363.5" font-size="6.3" text-anchor="end" fill="#231f20" color="#231f20" textLength="9.46" lengthAdjust="spacingAndGlyphs">0.0</text>
<text x="13.9" y="329.5" font-size="8.84" text-anchor="middle" fill="#231f20" color="#231f20" textLength="34.9" lengthAdjust="spacingAndGlyphs" transform="rotate(-90 13.9 329.5)" font-weight="bold" style="stroke-width:0.05px">IL6 (pg/cell)</text>
<line x1="36.4" y1="361.3" x2="118.7" y2="361.3" stroke="#231f20" stroke-width="1.1"/>
<line x1="58.3" y1="361.3" x2="58.3" y2="363.9" stroke="#231f20" stroke-width="1"/>
<line x1="97.4" y1="361.3" x2="97.4" y2="363.9" stroke="#231f20" stroke-width="1"/>
<text x="58.2" y="373" font-size="7" text-anchor="middle" fill="#231f20" color="#231f20" textLength="27.3" lengthAdjust="spacingAndGlyphs">HD MSC</text>
<text x="97.3" y="373" font-size="7" text-anchor="middle" fill="#231f20" color="#231f20" textLength="28.6" lengthAdjust="spacingAndGlyphs">MM MSC</text>
<rect x="44.6" y="359.7" width="10.8" height="1.6" fill="#e8899b"/>
<line x1="50" y1="358.4" x2="50" y2="359.7" stroke="#5a5a5a" stroke-width="0.8"/>
<line x1="47.5" y1="358.4" x2="52.5" y2="358.4" stroke="#5a5a5a" stroke-width="0.8"/>
<rect x="61.2" y="351.4" width="11" height="9.9" fill="#c81e34"/>
<line x1="66.7" y1="350.4" x2="66.7" y2="351.4" stroke="#5a5a5a" stroke-width="0.8"/>
<line x1="64.2" y1="350.4" x2="69.2" y2="350.4" stroke="#5a5a5a" stroke-width="0.8"/>
<rect x="83.3" y="353.6" width="10.8" height="7.7" fill="#88aacb"/>
<line x1="88.7" y1="351" x2="88.7" y2="353.6" stroke="#5a5a5a" stroke-width="0.8"/>
<line x1="86.2" y1="351" x2="91.2" y2="351" stroke="#5a5a5a" stroke-width="0.8"/>
<rect x="100.3" y="331.3" width="10.4" height="30" fill="#134d83"/>
<rect x="100.3" y="319.4" width="10.4" height="6.8" fill="#134d83"/>
<line x1="105.5" y1="308.3" x2="105.5" y2="319.4" stroke="#5a5a5a" stroke-width="0.8"/>
<line x1="103" y1="308.3" x2="108" y2="308.3" stroke="#5a5a5a" stroke-width="0.8"/>
<path d="M50 344.4L50 342.8L66.7 342.8L66.7 344.4" stroke="#333" stroke-width="0.8" fill="none"/>
<text x="58.35" y="343.09" font-size="7" text-anchor="middle" fill="#231f20" color="#231f20" textLength="5.88" lengthAdjust="spacingAndGlyphs">**</text>
<path d="M66.5 297.7L66.5 296.1L105.9 296.1L105.9 297.7" stroke="#333" stroke-width="0.8" fill="none"/>
<text x="86.2" y="296.39" font-size="7" text-anchor="middle" fill="#231f20" color="#231f20" textLength="2.94" lengthAdjust="spacingAndGlyphs">*</text>
<path d="M88.6 304.2L88.6 302.6L105.9 302.6L105.9 304.2" stroke="#333" stroke-width="0.8" fill="none"/>
<text x="97.25" y="302.89" font-size="7" text-anchor="middle" fill="#231f20" color="#231f20" textLength="2.94" lengthAdjust="spacingAndGlyphs">*</text>
<rect x="116" y="288.05" width="3.7" height="3.7" fill="#e8899b"/>
<text x="123.1" y="292.3" font-size="6.69" text-anchor="start" fill="#231f20" color="#231f20" textLength="29.4" lengthAdjust="spacingAndGlyphs">Untreated</text>
<rect x="116" y="298.05" width="3.7" height="3.7" fill="#c81e34"/>
<text x="123.1" y="302.3" font-size="6.67" text-anchor="start" fill="#231f20" color="#231f20" textLength="12.6" lengthAdjust="spacingAndGlyphs">LPS</text>
<rect x="116" y="308.05" width="3.7" height="3.7" fill="#88aacb"/>
<text x="123.1" y="312.3" font-size="6.69" text-anchor="start" fill="#231f20" color="#231f20" textLength="29.4" lengthAdjust="spacingAndGlyphs">Untreated</text>
<rect x="116" y="318.75" width="3.7" height="3.7" fill="#134d83"/>
<text x="123.1" y="323" font-size="6.67" text-anchor="start" fill="#231f20" color="#231f20" textLength="12.6" lengthAdjust="spacingAndGlyphs">LPS</text>
<line x1="155.9" y1="286.9" x2="155.9" y2="302.5" stroke="#555" stroke-width="0.8"/>
<text x="157.9" y="297.5" font-size="7.35" text-anchor="start" fill="#231f20" color="#231f20" textLength="29" lengthAdjust="spacingAndGlyphs">HD MSC</text>
<line x1="155.9" y1="307.3" x2="155.9" y2="323.3" stroke="#555" stroke-width="0.8"/>
<text x="157.9" y="318.1" font-size="6.96" text-anchor="start" fill="#231f20" color="#231f20" textLength="29" lengthAdjust="spacingAndGlyphs">MM MSC</text>
<text x="195" y="280.1" font-size="10" text-anchor="start" fill="#000" color="#000" font-weight="bold" style="stroke-width:0.45px">G</text>
<line x1="228.7" y1="290.7" x2="228.7" y2="361.3" stroke="#231f20" stroke-width="1.1"/>
<line x1="225.7" y1="294.5" x2="228.7" y2="294.5" stroke="#231f20" stroke-width="0.99"/>
<text x="221.3" y="296.98" font-size="6.9" text-anchor="end" fill="#231f20" color="#231f20" textLength="12.43" lengthAdjust="spacingAndGlyphs">400</text>
<line x1="225.7" y1="311.5" x2="228.7" y2="311.5" stroke="#231f20" stroke-width="0.99"/>
<text x="221.3" y="313.98" font-size="6.9" text-anchor="end" fill="#231f20" color="#231f20" textLength="12.43" lengthAdjust="spacingAndGlyphs">300</text>
<line x1="225.7" y1="328.2" x2="228.7" y2="328.2" stroke="#231f20" stroke-width="0.99"/>
<text x="221.3" y="330.68" font-size="6.9" text-anchor="end" fill="#231f20" color="#231f20" textLength="12.43" lengthAdjust="spacingAndGlyphs">200</text>
<line x1="225.7" y1="344.8" x2="228.7" y2="344.8" stroke="#231f20" stroke-width="0.99"/>
<text x="221.3" y="347.28" font-size="6.9" text-anchor="end" fill="#231f20" color="#231f20" textLength="12.43" lengthAdjust="spacingAndGlyphs">100</text>
<line x1="225.7" y1="361.3" x2="228.7" y2="361.3" stroke="#231f20" stroke-width="0.99"/>
<text x="221.3" y="363.78" font-size="6.9" text-anchor="end" fill="#231f20" color="#231f20" textLength="4.14" lengthAdjust="spacingAndGlyphs">0</text>
<text x="202.7" y="328.3" font-size="8.58" text-anchor="middle" fill="#231f20" color="#231f20" textLength="41" lengthAdjust="spacingAndGlyphs" transform="rotate(-90 202.7 328.3)" font-weight="bold" style="stroke-width:0.05px">Hsp70 (ng/ml)</text>
<line x1="228.7" y1="361.3" x2="326.3" y2="361.3" stroke="#231f20" stroke-width="1.1"/>
<line x1="245.2" y1="361.3" x2="245.2" y2="363.9" stroke="#231f20" stroke-width="1"/>
<line x1="278.8" y1="361.3" x2="278.8" y2="363.9" stroke="#231f20" stroke-width="1"/>
<line x1="309.6" y1="361.3" x2="309.6" y2="363.9" stroke="#231f20" stroke-width="1"/>
<text x="245.2" y="373.3" font-size="6.8" text-anchor="middle" fill="#231f20" color="#231f20" textLength="25.5" lengthAdjust="spacingAndGlyphs">MOLP-6</text>
<text x="278.8" y="373.3" font-size="6.8" text-anchor="middle" fill="#231f20" color="#231f20" textLength="26.6" lengthAdjust="spacingAndGlyphs">HD MSC</text>
<text x="309.4" y="373.3" font-size="6.8" text-anchor="middle" fill="#231f20" color="#231f20" textLength="27.6" lengthAdjust="spacingAndGlyphs">MM MSC</text>
<path d="M245.2 294.3L245.2 292.5L309.6 292.5L309.6 294.3" stroke="#333" stroke-width="0.8" fill="none"/>
<text x="277.4" y="292.02" font-size="5.5" text-anchor="middle" fill="#231f20" color="#231f20" textLength="2.31" lengthAdjust="spacingAndGlyphs">*</text>
<path d="M245.2 301.6L245.2 299.8L278.8 299.8L278.8 301.6" stroke="#333" stroke-width="0.8" fill="none"/>
<text x="262" y="299.32" font-size="5.5" text-anchor="middle" fill="#231f20" color="#231f20" textLength="2.31" lengthAdjust="spacingAndGlyphs">*</text>
<line x1="238.5" y1="329.4" x2="251.9" y2="329.4" stroke="#555" stroke-width="1"/>
<line x1="245.2" y1="325.6" x2="245.2" y2="333.5" stroke="#555" stroke-width="0.8"/>
<line x1="242.1" y1="325.6" x2="248.3" y2="325.6" stroke="#555" stroke-width="0.8"/>
<line x1="242.1" y1="333.5" x2="248.3" y2="333.5" stroke="#555" stroke-width="0.8"/>
<rect x="243.6" y="310.5" width="3.2" height="3.2" fill="#0f6b58"/>
<rect x="241.1" y="330.3" width="3.2" height="3.2" fill="#0f6b58"/>
<rect x="246.1" y="330.3" width="3.2" height="3.2" fill="#0f6b58"/>
<rect x="241.1" y="335.7" width="3.2" height="3.2" fill="#0f6b58"/>
<rect x="246.1" y="334.6" width="3.2" height="3.2" fill="#0f6b58"/>
<line x1="272.5" y1="346.3" x2="285.6" y2="346.3" stroke="#555" stroke-width="1"/>
<line x1="279" y1="344" x2="279" y2="348.8" stroke="#555" stroke-width="0.8"/>
<line x1="275.8" y1="344" x2="282.2" y2="344" stroke="#555" stroke-width="0.8"/>
<line x1="275.8" y1="348.8" x2="282.2" y2="348.8" stroke="#555" stroke-width="0.8"/>
<circle cx="278.8" cy="341.5" r="1.8" fill="#c81e34"/>
<circle cx="276.9" cy="343.8" r="1.8" fill="#c81e34"/>
<circle cx="281.3" cy="346.7" r="1.8" fill="#c81e34"/>
<circle cx="278.8" cy="353.5" r="1.8" fill="#c81e34"/>
<line x1="302.9" y1="345.4" x2="315.8" y2="345.4" stroke="#555" stroke-width="1"/>
<line x1="309.4" y1="343" x2="309.4" y2="348.2" stroke="#555" stroke-width="0.8"/>
<line x1="306.2" y1="343" x2="312.6" y2="343" stroke="#555" stroke-width="0.8"/>
<line x1="306.2" y1="348.2" x2="312.6" y2="348.2" stroke="#555" stroke-width="0.8"/>
<path d="M307.1 339.4L309.2 341.5L307.1 343.6L305 341.5Z" fill="#134d83"/>
<path d="M311.5 339.4L313.6 341.5L311.5 343.6L309.4 341.5Z" fill="#134d83"/>
<path d="M309.6 344.2L311.7 346.3L309.6 348.4L307.5 346.3Z" fill="#134d83"/>
<path d="M309.6 349.4L311.7 351.5L309.6 353.6L307.5 351.5Z" fill="#134d83"/>
<text x="331.7" y="280.1" font-size="10" text-anchor="start" fill="#000" color="#000" font-weight="bold" style="stroke-width:0.45px">H</text>
<text x="405.2" y="287.7" font-size="8.8" text-anchor="middle" fill="#231f20" color="#231f20" textLength="61" lengthAdjust="spacingAndGlyphs">CD54 (ICAM1)</text>
<line x1="360" y1="292.9" x2="360" y2="361.5" stroke="#231f20" stroke-width="1.1"/>
<line x1="356.7" y1="297" x2="360" y2="297" stroke="#231f20" stroke-width="0.99"/>
<text x="353.3" y="299.38" font-size="6.6" text-anchor="end" fill="#231f20" color="#231f20" textLength="7.93" lengthAdjust="spacingAndGlyphs">15</text>
<line x1="356.7" y1="318.4" x2="360" y2="318.4" stroke="#231f20" stroke-width="0.99"/>
<text x="353.3" y="320.78" font-size="6.6" text-anchor="end" fill="#231f20" color="#231f20" textLength="7.93" lengthAdjust="spacingAndGlyphs">10</text>
<line x1="356.7" y1="340.1" x2="360" y2="340.1" stroke="#231f20" stroke-width="0.99"/>
<text x="353.3" y="342.48" font-size="6.6" text-anchor="end" fill="#231f20" color="#231f20" textLength="3.96" lengthAdjust="spacingAndGlyphs">5</text>
<line x1="356.7" y1="361.5" x2="360" y2="361.5" stroke="#231f20" stroke-width="0.99"/>
<text x="353.3" y="363.88" font-size="6.6" text-anchor="end" fill="#231f20" color="#231f20" textLength="3.96" lengthAdjust="spacingAndGlyphs">0</text>
<text x="338.8" y="329.2" font-size="7.39" text-anchor="middle" fill="#231f20" color="#231f20" textLength="13.9" lengthAdjust="spacingAndGlyphs" transform="rotate(-90 338.8 329.2)" font-weight="bold" style="stroke-width:0.05px">rMFI</text>
<line x1="360" y1="361.5" x2="445" y2="361.5" stroke="#231f20" stroke-width="1.1"/>
<line x1="380.2" y1="361.5" x2="380.2" y2="364" stroke="#231f20" stroke-width="1"/>
<line x1="422.4" y1="361.5" x2="422.4" y2="364" stroke="#231f20" stroke-width="1"/>
<text x="380.4" y="373.3" font-size="7.6" text-anchor="middle" fill="#231f20" color="#231f20" textLength="30.2" lengthAdjust="spacingAndGlyphs">HD MSC</text>
<text x="422.8" y="373.4" font-size="7.6" text-anchor="middle" fill="#231f20" color="#231f20" textLength="32" lengthAdjust="spacingAndGlyphs">MM MSC</text>
<rect x="366" y="316.9" width="10.9" height="44.6" fill="#e8899b"/>
<line x1="371.45" y1="305" x2="371.45" y2="316.9" stroke="#5a5a5a" stroke-width="0.8"/>
<line x1="368.85" y1="305" x2="374.05" y2="305" stroke="#5a5a5a" stroke-width="0.8"/>
<rect x="383.7" y="311.5" width="10.5" height="50" fill="#c81e34"/>
<line x1="388.95" y1="300.2" x2="388.95" y2="311.5" stroke="#5a5a5a" stroke-width="0.8"/>
<line x1="386.35" y1="300.2" x2="391.55" y2="300.2" stroke="#5a5a5a" stroke-width="0.8"/>
<rect x="408.8" y="340.7" width="10.8" height="20.8" fill="#88aacb"/>
<line x1="414.2" y1="337.2" x2="414.2" y2="340.7" stroke="#5a5a5a" stroke-width="0.8"/>
<line x1="411.6" y1="337.2" x2="416.8" y2="337.2" stroke="#5a5a5a" stroke-width="0.8"/>
<rect x="426.1" y="333.8" width="10.8" height="27.7" fill="#134d83"/>
<line x1="431.5" y1="328.5" x2="431.5" y2="333.8" stroke="#5a5a5a" stroke-width="0.8"/>
<line x1="428.9" y1="328.5" x2="434.1" y2="328.5" stroke="#5a5a5a" stroke-width="0.8"/>
<path d="M413.4 302.6L413.4 300.8L431.6 300.8L431.6 302.6" stroke="#333" stroke-width="0.8" fill="none"/>
<text x="422.5" y="300.48" font-size="5.8" text-anchor="middle" fill="#231f20" color="#231f20" textLength="2.44" lengthAdjust="spacingAndGlyphs">*</text>
<rect x="442.7" y="287.25" width="3.7" height="3.7" fill="#e8899b"/>
<text x="449.6" y="291.5" font-size="6.74" text-anchor="start" fill="#231f20" color="#231f20" textLength="29.6" lengthAdjust="spacingAndGlyphs">Untreated</text>
<rect x="442.7" y="298.75" width="3.7" height="3.7" fill="#c81e34"/>
<text x="449.6" y="303" font-size="6.92" text-anchor="start" fill="#231f20" color="#231f20" textLength="20" lengthAdjust="spacingAndGlyphs">Hsp70</text>
<rect x="442.7" y="308.05" width="3.7" height="3.7" fill="#88aacb"/>
<text x="449.6" y="312.3" font-size="6.74" text-anchor="start" fill="#231f20" color="#231f20" textLength="29.6" lengthAdjust="spacingAndGlyphs">Untreated</text>
<rect x="442.7" y="318.65" width="3.7" height="3.7" fill="#134d83"/>
<text x="449.6" y="322.9" font-size="6.92" text-anchor="start" fill="#231f20" color="#231f20" textLength="20" lengthAdjust="spacingAndGlyphs">Hsp70</text>
<line x1="482.4" y1="285.3" x2="482.4" y2="302.6" stroke="#555" stroke-width="0.8"/>
<text x="484.2" y="297.6" font-size="7.35" text-anchor="start" fill="#231f20" color="#231f20" textLength="29" lengthAdjust="spacingAndGlyphs">HD MSC</text>
<line x1="482.4" y1="307.2" x2="482.4" y2="323.4" stroke="#555" stroke-width="0.8"/>
<text x="484.2" y="317.7" font-size="7.06" text-anchor="start" fill="#231f20" color="#231f20" textLength="29.4" lengthAdjust="spacingAndGlyphs">MM MSC</text>
<text x="7" y="393.6" font-size="10" text-anchor="start" fill="#000" color="#000" font-weight="bold" style="stroke-width:0.45px">I</text>
<line x1="35.8" y1="402.7" x2="35.8" y2="487.1" stroke="#231f20" stroke-width="1.1"/>
<line x1="32.8" y1="406.9" x2="35.8" y2="406.9" stroke="#231f20" stroke-width="0.99"/>
<text x="30.8" y="409.35" font-size="6.8" text-anchor="end" fill="#231f20" color="#231f20" textLength="10.21" lengthAdjust="spacingAndGlyphs">0.4</text>
<line x1="32.8" y1="427.1" x2="35.8" y2="427.1" stroke="#231f20" stroke-width="0.99"/>
<text x="30.8" y="429.55" font-size="6.8" text-anchor="end" fill="#231f20" color="#231f20" textLength="10.21" lengthAdjust="spacingAndGlyphs">0.3</text>
<line x1="32.8" y1="447.2" x2="35.8" y2="447.2" stroke="#231f20" stroke-width="0.99"/>
<text x="30.8" y="449.65" font-size="6.8" text-anchor="end" fill="#231f20" color="#231f20" textLength="10.21" lengthAdjust="spacingAndGlyphs">0.2</text>
<line x1="32.8" y1="467.1" x2="35.8" y2="467.1" stroke="#231f20" stroke-width="0.99"/>
<text x="30.8" y="469.55" font-size="6.8" text-anchor="end" fill="#231f20" color="#231f20" textLength="10.21" lengthAdjust="spacingAndGlyphs">0.1</text>
<line x1="32.8" y1="487.1" x2="35.8" y2="487.1" stroke="#231f20" stroke-width="0.99"/>
<text x="30.8" y="489.55" font-size="6.8" text-anchor="end" fill="#231f20" color="#231f20" textLength="10.21" lengthAdjust="spacingAndGlyphs">0.0</text>
<text x="13.9" y="447.2" font-size="9.11" text-anchor="middle" fill="#231f20" color="#231f20" textLength="35.1" lengthAdjust="spacingAndGlyphs" transform="rotate(-90 13.9 447.2)" font-weight="bold" style="stroke-width:0.05px">IL6 (pg/cell)</text>
<line x1="35.8" y1="487.1" x2="156.9" y2="487.1" stroke="#231f20" stroke-width="1.1"/>
<line x1="66.5" y1="487.1" x2="66.5" y2="489.7" stroke="#231f20" stroke-width="1"/>
<line x1="126.7" y1="487.1" x2="126.7" y2="489.7" stroke="#231f20" stroke-width="1"/>
<text x="66.8" y="498.8" font-size="7.6" text-anchor="middle" fill="#231f20" color="#231f20" textLength="30.4" lengthAdjust="spacingAndGlyphs">HD MSC</text>
<text x="127.2" y="498.9" font-size="7.6" text-anchor="middle" fill="#231f20" color="#231f20" textLength="32.2" lengthAdjust="spacingAndGlyphs">MM MSC</text>
<rect x="51" y="483.3" width="12.1" height="3.8" fill="#e8899b"/>
<line x1="57.05" y1="481.2" x2="57.05" y2="483.3" stroke="#b06070" stroke-width="0.8"/>
<line x1="54.05" y1="481.2" x2="60.05" y2="481.2" stroke="#b06070" stroke-width="0.8"/>
<rect x="70.2" y="481" width="12.5" height="6.1" fill="#c81e34"/>
<line x1="76.45" y1="478.5" x2="76.45" y2="481" stroke="#9a2a3c" stroke-width="0.8"/>
<line x1="73.35" y1="478.5" x2="79.55" y2="478.5" stroke="#9a2a3c" stroke-width="0.8"/>
<rect x="111.1" y="453.1" width="11.5" height="34" fill="#88aacb"/>
<line x1="116.85" y1="435.5" x2="116.85" y2="453.1" stroke="#777" stroke-width="0.8"/>
<line x1="113.7" y1="435.5" x2="120" y2="435.5" stroke="#777" stroke-width="0.8"/>
<rect x="130.4" y="429.7" width="12.1" height="57.4" fill="#134d83"/>
<line x1="136.45" y1="416.7" x2="136.45" y2="429.7" stroke="#777" stroke-width="0.8"/>
<line x1="133.15" y1="416.7" x2="139.75" y2="416.7" stroke="#777" stroke-width="0.8"/>
<path d="M116.8 412.6L116.8 410.4L136.7 410.4L136.7 412.6" stroke="#333" stroke-width="0.8" fill="none"/>
<text x="126.75" y="410.08" font-size="5.8" text-anchor="middle" fill="#231f20" color="#231f20" textLength="2.44" lengthAdjust="spacingAndGlyphs">*</text>
<rect x="157.2" y="406.6" width="3.8" height="3.8" fill="#e8899b"/>
<text x="164.4" y="410.9" font-size="6.79" text-anchor="start" fill="#231f20" color="#231f20" textLength="29.8" lengthAdjust="spacingAndGlyphs">Untreated</text>
<rect x="157.2" y="417.3" width="3.8" height="3.8" fill="#c81e34"/>
<text x="164.4" y="421.6" font-size="7.13" text-anchor="start" fill="#231f20" color="#231f20" textLength="20.6" lengthAdjust="spacingAndGlyphs">Hsp70</text>
<rect x="157.2" y="427.7" width="3.8" height="3.8" fill="#88aacb"/>
<text x="164.4" y="432" font-size="6.79" text-anchor="start" fill="#231f20" color="#231f20" textLength="29.8" lengthAdjust="spacingAndGlyphs">Untreated</text>
<rect x="157.2" y="437.8" width="3.8" height="3.8" fill="#134d83"/>
<text x="164.4" y="442.1" font-size="7.13" text-anchor="start" fill="#231f20" color="#231f20" textLength="20.6" lengthAdjust="spacingAndGlyphs">Hsp70</text>
<line x1="196.7" y1="405.8" x2="196.7" y2="421.9" stroke="#555" stroke-width="0.8"/>
<text x="200.5" y="416.5" font-size="7.25" text-anchor="start" fill="#231f20" color="#231f20" textLength="28.6" lengthAdjust="spacingAndGlyphs">HD MSC</text>
<line x1="196.7" y1="426.2" x2="196.7" y2="442.7" stroke="#555" stroke-width="0.8"/>
<text x="200.5" y="436.7" font-size="7.15" text-anchor="start" fill="#231f20" color="#231f20" textLength="29.8" lengthAdjust="spacingAndGlyphs">MM MSC</text>
<text x="254.5" y="393" font-size="10" text-anchor="start" fill="#000" color="#000" font-weight="bold" style="stroke-width:0.45px">J</text>
<line x1="302" y1="395.2" x2="302" y2="487" stroke="#231f20" stroke-width="1.1"/>
<line x1="299" y1="399.8" x2="302" y2="399.8" stroke="#231f20" stroke-width="1"/>
<text x="275.7" y="404.02" font-size="6.2" text-anchor="start" fill="#231f20" color="#231f20" textLength="16.7" lengthAdjust="spacingAndGlyphs">4&#215;10</text>
<text x="292.6" y="401.37" font-size="4.6" text-anchor="start" fill="#231f20" color="#231f20" textLength="3.3" lengthAdjust="spacingAndGlyphs">5</text>
<line x1="299" y1="421.6" x2="302" y2="421.6" stroke="#231f20" stroke-width="1"/>
<text x="275.7" y="425.82" font-size="6.2" text-anchor="start" fill="#231f20" color="#231f20" textLength="16.7" lengthAdjust="spacingAndGlyphs">3&#215;10</text>
<text x="292.6" y="423.17" font-size="4.6" text-anchor="start" fill="#231f20" color="#231f20" textLength="3.3" lengthAdjust="spacingAndGlyphs">5</text>
<line x1="299" y1="443.4" x2="302" y2="443.4" stroke="#231f20" stroke-width="1"/>
<text x="275.7" y="447.62" font-size="6.2" text-anchor="start" fill="#231f20" color="#231f20" textLength="16.7" lengthAdjust="spacingAndGlyphs">2&#215;10</text>
<text x="292.6" y="444.97" font-size="4.6" text-anchor="start" fill="#231f20" color="#231f20" textLength="3.3" lengthAdjust="spacingAndGlyphs">5</text>
<line x1="299" y1="465.2" x2="302" y2="465.2" stroke="#231f20" stroke-width="1"/>
<text x="275.7" y="469.42" font-size="6.2" text-anchor="start" fill="#231f20" color="#231f20" textLength="16.7" lengthAdjust="spacingAndGlyphs">1&#215;10</text>
<text x="292.6" y="466.77" font-size="4.6" text-anchor="start" fill="#231f20" color="#231f20" textLength="3.3" lengthAdjust="spacingAndGlyphs">5</text>
<line x1="299" y1="487" x2="302" y2="487" stroke="#231f20" stroke-width="1"/>
<text x="296.2" y="489.4" font-size="6.7" text-anchor="end" fill="#231f20" color="#231f20" textLength="4.02" lengthAdjust="spacingAndGlyphs">0</text>
<text x="270" y="443.3" font-size="8.84" text-anchor="middle" fill="#231f20" color="#231f20" textLength="55.5" lengthAdjust="spacingAndGlyphs" transform="rotate(-90 270 443.3)" font-weight="bold" style="stroke-width:0.05px">MOLP6 (cell count)</text>
<line x1="302" y1="487" x2="433" y2="487" stroke="#231f20" stroke-width="1.1"/>
<text x="260" y="498.2" font-size="7" text-anchor="start" fill="#231f20" color="#231f20" textLength="35.4" lengthAdjust="spacingAndGlyphs">C34 (1&#956;m)</text>
<rect x="305.8" y="484" width="11.7" height="3" fill="#3c4a5c"/>
<line x1="311.65" y1="480" x2="311.65" y2="484" stroke="#5a5a5a" stroke-width="0.8"/>
<line x1="308.75" y1="480" x2="314.55" y2="480" stroke="#5a5a5a" stroke-width="0.8"/>
<rect x="323" y="477.5" width="12" height="9.5" fill="#3c4a5c"/>
<line x1="329" y1="470" x2="329" y2="477.5" stroke="#5a5a5a" stroke-width="0.8"/>
<line x1="326.1" y1="470" x2="331.9" y2="470" stroke="#5a5a5a" stroke-width="0.8"/>
<rect x="352.5" y="440.8" width="12" height="46.2" fill="#8b84c4"/>
<line x1="358.5" y1="428.3" x2="358.5" y2="440.8" stroke="#5a5a5a" stroke-width="0.8"/>
<line x1="355.6" y1="428.3" x2="361.4" y2="428.3" stroke="#5a5a5a" stroke-width="0.8"/>
<rect x="370.5" y="433.4" width="12.3" height="53.6" fill="#8b84c4"/>
<line x1="376.65" y1="425.8" x2="376.65" y2="433.4" stroke="#5a5a5a" stroke-width="0.8"/>
<line x1="373.75" y1="425.8" x2="379.55" y2="425.8" stroke="#5a5a5a" stroke-width="0.8"/>
<rect x="400.7" y="424.6" width="11.9" height="62.4" fill="#136b52"/>
<line x1="406.65" y1="410.4" x2="406.65" y2="424.6" stroke="#5a5a5a" stroke-width="0.8"/>
<line x1="403.75" y1="410.4" x2="409.55" y2="410.4" stroke="#5a5a5a" stroke-width="0.8"/>
<rect x="418.2" y="444.7" width="12" height="42.3" fill="#136b52"/>
<line x1="424.2" y1="431.3" x2="424.2" y2="444.7" stroke="#5a5a5a" stroke-width="0.8"/>
<line x1="421.3" y1="431.3" x2="427.1" y2="431.3" stroke="#5a5a5a" stroke-width="0.8"/>
<text x="311.6" y="497.8" font-size="7" text-anchor="middle" fill="#231f20" color="#231f20" textLength="4.2" lengthAdjust="spacingAndGlyphs">&#8211;</text>
<text x="329" y="497.8" font-size="7" text-anchor="middle" fill="#231f20" color="#231f20" textLength="4.41" lengthAdjust="spacingAndGlyphs">+</text>
<text x="358.5" y="497.8" font-size="7" text-anchor="middle" fill="#231f20" color="#231f20" textLength="4.2" lengthAdjust="spacingAndGlyphs">&#8211;</text>
<text x="376.6" y="497.8" font-size="7" text-anchor="middle" fill="#231f20" color="#231f20" textLength="4.41" lengthAdjust="spacingAndGlyphs">+</text>
<text x="406.6" y="497.8" font-size="7" text-anchor="middle" fill="#231f20" color="#231f20" textLength="4.2" lengthAdjust="spacingAndGlyphs">&#8211;</text>
<text x="424.2" y="497.8" font-size="7" text-anchor="middle" fill="#231f20" color="#231f20" textLength="4.41" lengthAdjust="spacingAndGlyphs">+</text>
<path d="M406.2 405.7L406.2 403.7L424.6 403.7L424.6 405.7" stroke="#333" stroke-width="0.8" fill="none"/>
<text x="415.4" y="403.38" font-size="5.8" text-anchor="middle" fill="#231f20" color="#231f20" textLength="2.44" lengthAdjust="spacingAndGlyphs">*</text>
<rect x="443.3" y="407.7" width="3.6" height="3.6" fill="#3c4a5c"/>
<text x="449.7" y="411.8" font-size="7.26" text-anchor="start" fill="#231f20" color="#231f20" textLength="24.6" lengthAdjust="spacingAndGlyphs">MOLP6</text>
<rect x="443.3" y="417.7" width="3.6" height="3.6" fill="#8b84c4"/>
<text x="449.7" y="421.8" font-size="7.36" text-anchor="start" fill="#231f20" color="#231f20" textLength="62.4" lengthAdjust="spacingAndGlyphs">MOLP6 + HD MSC</text>
<rect x="443.3" y="427.7" width="3.6" height="3.6" fill="#136b52"/>
<text x="449.7" y="431.8" font-size="7.3" text-anchor="start" fill="#231f20" color="#231f20" textLength="63.5" lengthAdjust="spacingAndGlyphs">MOLP6 + MM MSC</text>
<text x="6.4" y="536.2" font-size="10" text-anchor="start" fill="#000" color="#000" font-weight="bold" style="stroke-width:0.45px">K</text>
<line x1="49.6" y1="566.5" x2="49.6" y2="655" stroke="#231f20" stroke-width="1.1"/>
<line x1="46.5" y1="570.2" x2="49.6" y2="570.2" stroke="#231f20" stroke-width="1"/>
<text x="22.9" y="574.49" font-size="6.4" text-anchor="start" fill="#231f20" color="#231f20" textLength="18.9" lengthAdjust="spacingAndGlyphs">6&#215;10</text>
<text x="42" y="571.7" font-size="4.6" text-anchor="start" fill="#231f20" color="#231f20" textLength="1.9" lengthAdjust="spacingAndGlyphs">5</text>
<line x1="46.5" y1="598.5" x2="49.6" y2="598.5" stroke="#231f20" stroke-width="1"/>
<text x="22.9" y="602.79" font-size="6.4" text-anchor="start" fill="#231f20" color="#231f20" textLength="18.9" lengthAdjust="spacingAndGlyphs">4&#215;10</text>
<text x="42" y="600" font-size="4.6" text-anchor="start" fill="#231f20" color="#231f20" textLength="1.9" lengthAdjust="spacingAndGlyphs">5</text>
<line x1="46.5" y1="627" x2="49.6" y2="627" stroke="#231f20" stroke-width="1"/>
<text x="22.9" y="631.29" font-size="6.4" text-anchor="start" fill="#231f20" color="#231f20" textLength="18.9" lengthAdjust="spacingAndGlyphs">2&#215;10</text>
<text x="42" y="628.5" font-size="4.6" text-anchor="start" fill="#231f20" color="#231f20" textLength="1.9" lengthAdjust="spacingAndGlyphs">5</text>
<line x1="46.5" y1="655" x2="49.6" y2="655" stroke="#231f20" stroke-width="1"/>
<text x="43.9" y="657.4" font-size="6.7" text-anchor="end" fill="#231f20" color="#231f20" textLength="4.02" lengthAdjust="spacingAndGlyphs">0</text>
<text x="17.3" y="613.1" font-size="7.66" text-anchor="middle" fill="#231f20" color="#231f20" textLength="52.2" lengthAdjust="spacingAndGlyphs" transform="rotate(-90 17.3 613.1)" font-weight="bold" style="stroke-width:0.05px">MM1S (cell count)</text>
<line x1="49.6" y1="655" x2="177.8" y2="655" stroke="#231f20" stroke-width="1.1"/>
<text x="6.4" y="665.8" font-size="7" text-anchor="start" fill="#231f20" color="#231f20" textLength="35.8" lengthAdjust="spacingAndGlyphs">C34 (1&#956;m)</text>
<rect x="57.3" y="620.9" width="11.8" height="34.1" fill="#d3d3d5"/>
<rect x="74.8" y="620.1" width="12.1" height="34.9" fill="#d3d3d5"/>
<rect x="98.8" y="605.8" width="12.1" height="49.2" fill="#5a286c"/>
<line x1="104.85" y1="589.5" x2="104.85" y2="605.8" stroke="#5a5a5a" stroke-width="0.8"/>
<line x1="101.95" y1="589.5" x2="107.75" y2="589.5" stroke="#5a5a5a" stroke-width="0.8"/>
<rect x="117.2" y="601.3" width="11.5" height="53.7" fill="#5a286c"/>
<line x1="122.95" y1="580.9" x2="122.95" y2="601.3" stroke="#5a5a5a" stroke-width="0.8"/>
<line x1="120.05" y1="580.9" x2="125.85" y2="580.9" stroke="#5a5a5a" stroke-width="0.8"/>
<rect x="141.2" y="615.5" width="11.5" height="39.5" fill="#3db54b"/>
<line x1="146.95" y1="613.5" x2="146.95" y2="615.5" stroke="#5a5a5a" stroke-width="0.8"/>
<line x1="144.05" y1="613.5" x2="149.85" y2="613.5" stroke="#5a5a5a" stroke-width="0.8"/>
<rect x="159" y="619.2" width="11.6" height="35.8" fill="#3db54b"/>
<line x1="164.8" y1="615.8" x2="164.8" y2="619.2" stroke="#5a5a5a" stroke-width="0.8"/>
<line x1="161.9" y1="615.8" x2="167.7" y2="615.8" stroke="#5a5a5a" stroke-width="0.8"/>
<text x="63.2" y="665.6" font-size="7" text-anchor="middle" fill="#231f20" color="#231f20" textLength="4.2" lengthAdjust="spacingAndGlyphs">&#8211;</text>
<text x="80.8" y="665.6" font-size="7" text-anchor="middle" fill="#231f20" color="#231f20" textLength="4.41" lengthAdjust="spacingAndGlyphs">+</text>
<text x="104.8" y="665.6" font-size="7" text-anchor="middle" fill="#231f20" color="#231f20" textLength="4.2" lengthAdjust="spacingAndGlyphs">&#8211;</text>
<text x="122.9" y="665.6" font-size="7" text-anchor="middle" fill="#231f20" color="#231f20" textLength="4.41" lengthAdjust="spacingAndGlyphs">+</text>
<text x="146.9" y="665.6" font-size="7" text-anchor="middle" fill="#231f20" color="#231f20" textLength="4.2" lengthAdjust="spacingAndGlyphs">&#8211;</text>
<text x="164.8" y="665.6" font-size="7" text-anchor="middle" fill="#231f20" color="#231f20" textLength="4.41" lengthAdjust="spacingAndGlyphs">+</text>
<rect x="173.5" y="570.25" width="3.7" height="3.7" fill="#d3d3d5"/>
<text x="180.7" y="574.4" font-size="7.13" text-anchor="start" fill="#231f20" color="#231f20" textLength="20.6" lengthAdjust="spacingAndGlyphs">MM1S</text>
<rect x="173.5" y="580.35" width="3.7" height="3.7" fill="#5a286c"/>
<text x="180.7" y="584.5" font-size="7.37" text-anchor="start" fill="#231f20" color="#231f20" textLength="58.8" lengthAdjust="spacingAndGlyphs">MM1S + HD MSC</text>
<rect x="173.5" y="591.05" width="3.7" height="3.7" fill="#3db54b"/>
<text x="180.7" y="595.2" font-size="7.35" text-anchor="start" fill="#231f20" color="#231f20" textLength="60.2" lengthAdjust="spacingAndGlyphs">MM1S + MM MSC</text>
<text x="254.8" y="535.9" font-size="10" text-anchor="start" fill="#000" color="#000" font-weight="bold" style="stroke-width:0.45px">L</text>
<line x1="302" y1="545.8" x2="302" y2="655.4" stroke="#231f20" stroke-width="1.1"/>
<line x1="299" y1="550.6" x2="302" y2="550.6" stroke="#231f20" stroke-width="1"/>
<text x="269.8" y="554.96" font-size="6.6" text-anchor="start" fill="#231f20" color="#231f20" textLength="23.7" lengthAdjust="spacingAndGlyphs">1.0&#215;10</text>
<text x="293.7" y="552.03" font-size="4.6" text-anchor="start" fill="#231f20" color="#231f20" textLength="2.3" lengthAdjust="spacingAndGlyphs">6</text>
<line x1="299" y1="576.8" x2="302" y2="576.8" stroke="#231f20" stroke-width="1"/>
<text x="269.8" y="581.16" font-size="6.6" text-anchor="start" fill="#231f20" color="#231f20" textLength="23.7" lengthAdjust="spacingAndGlyphs">7.5&#215;10</text>
<text x="293.7" y="578.23" font-size="4.6" text-anchor="start" fill="#231f20" color="#231f20" textLength="2.3" lengthAdjust="spacingAndGlyphs">5</text>
<line x1="299" y1="603" x2="302" y2="603" stroke="#231f20" stroke-width="1"/>
<text x="269.8" y="607.36" font-size="6.6" text-anchor="start" fill="#231f20" color="#231f20" textLength="23.7" lengthAdjust="spacingAndGlyphs">5.0&#215;10</text>
<text x="293.7" y="604.43" font-size="4.6" text-anchor="start" fill="#231f20" color="#231f20" textLength="2.3" lengthAdjust="spacingAndGlyphs">5</text>
<line x1="299" y1="629.2" x2="302" y2="629.2" stroke="#231f20" stroke-width="1"/>
<text x="269.8" y="633.56" font-size="6.6" text-anchor="start" fill="#231f20" color="#231f20" textLength="23.7" lengthAdjust="spacingAndGlyphs">2.5&#215;10</text>
<text x="293.7" y="630.63" font-size="4.6" text-anchor="start" fill="#231f20" color="#231f20" textLength="2.3" lengthAdjust="spacingAndGlyphs">5</text>
<line x1="299" y1="655.4" x2="302" y2="655.4" stroke="#231f20" stroke-width="1"/>
<text x="296.3" y="657.8" font-size="6.6" text-anchor="end" fill="#231f20" color="#231f20" textLength="9.91" lengthAdjust="spacingAndGlyphs">0.0</text>
<text x="263.3" y="602.6" font-size="9.5" text-anchor="middle" fill="#231f20" color="#231f20" textLength="54.8" lengthAdjust="spacingAndGlyphs" transform="rotate(-90 263.3 602.6)" font-weight="bold" style="stroke-width:0.05px">MOLP6 (cell count)</text>
<line x1="302" y1="655.4" x2="425.6" y2="655.4" stroke="#231f20" stroke-width="1.1"/>
<line x1="334.3" y1="655.4" x2="334.3" y2="658" stroke="#231f20" stroke-width="1"/>
<line x1="393.5" y1="655.4" x2="393.5" y2="658" stroke="#231f20" stroke-width="1"/>
<text x="334.5" y="666.4" font-size="7.8" text-anchor="middle" fill="#231f20" color="#231f20" textLength="31" lengthAdjust="spacingAndGlyphs">HD MSC</text>
<text x="393.5" y="666.4" font-size="7.8" text-anchor="middle" fill="#231f20" color="#231f20" textLength="32.5" lengthAdjust="spacingAndGlyphs">MM MSC</text>
<path d="M373.4 539.7L373.4 537.9L413.5 537.9L413.5 539.7" stroke="#333" stroke-width="0.8" fill="none"/>
<text x="393.45" y="534.59" font-size="7" text-anchor="middle" fill="#231f20" color="#231f20" textLength="7.98" lengthAdjust="spacingAndGlyphs">ns</text>
<path d="M373.4 550.5L373.4 548.7L393.5 548.7L393.5 550.5" stroke="#333" stroke-width="0.8" fill="none"/>
<text x="383.45" y="548.99" font-size="7" text-anchor="middle" fill="#231f20" color="#231f20" textLength="2.94" lengthAdjust="spacingAndGlyphs">*</text>
<path d="M393.7 545.1L393.7 543.3L413.5 543.3L413.5 545.1" stroke="#333" stroke-width="0.8" fill="none"/>
<text x="403.6" y="543.59" font-size="7" text-anchor="middle" fill="#231f20" color="#231f20" textLength="2.94" lengthAdjust="spacingAndGlyphs">*</text>
<line x1="308.7" y1="606.9" x2="321.4" y2="606.9" stroke="#444" stroke-width="0.9"/>
<line x1="315" y1="603.1" x2="315" y2="610.4" stroke="#444" stroke-width="0.8"/>
<line x1="311.06" y1="603.1" x2="318.94" y2="603.1" stroke="#444" stroke-width="0.8"/>
<line x1="311.06" y1="610.4" x2="318.94" y2="610.4" stroke="#444" stroke-width="0.8"/>
<circle cx="312.5" cy="601" r="1.75" fill="#e88a9c"/>
<circle cx="317.9" cy="601.8" r="1.75" fill="#e88a9c"/>
<circle cx="316.8" cy="610.4" r="1.75" fill="#e88a9c"/>
<circle cx="312.5" cy="613.9" r="1.75" fill="#e88a9c"/>
<line x1="328.1" y1="609" x2="341" y2="609" stroke="#444" stroke-width="0.9"/>
<line x1="334.5" y1="603.1" x2="334.5" y2="615.2" stroke="#444" stroke-width="0.8"/>
<line x1="330.5" y1="603.1" x2="338.5" y2="603.1" stroke="#444" stroke-width="0.8"/>
<line x1="330.5" y1="615.2" x2="338.5" y2="615.2" stroke="#444" stroke-width="0.8"/>
<circle cx="334.3" cy="595.6" r="1.75" fill="#d8405e"/>
<circle cx="336.2" cy="605.8" r="1.75" fill="#d8405e"/>
<circle cx="330.8" cy="609.6" r="1.75" fill="#d8405e"/>
<circle cx="334.3" cy="624.7" r="1.75" fill="#d8405e"/>
<line x1="347.5" y1="594.8" x2="360.9" y2="594.8" stroke="#444" stroke-width="0.9"/>
<line x1="354.2" y1="586.7" x2="354.2" y2="602.3" stroke="#444" stroke-width="0.8"/>
<line x1="350.05" y1="586.7" x2="358.35" y2="586.7" stroke="#444" stroke-width="0.8"/>
<line x1="350.05" y1="602.3" x2="358.35" y2="602.3" stroke="#444" stroke-width="0.8"/>
<circle cx="354.2" cy="577.3" r="1.75" fill="#c00a26"/>
<circle cx="354.2" cy="587" r="1.75" fill="#c00a26"/>
<circle cx="356.9" cy="605" r="1.75" fill="#c00a26"/>
<circle cx="351.5" cy="609" r="1.75" fill="#c00a26"/>
<line x1="367.1" y1="574" x2="380.5" y2="574" stroke="#444" stroke-width="0.9"/>
<line x1="373.8" y1="571.6" x2="373.8" y2="576.8" stroke="#444" stroke-width="0.8"/>
<line x1="369.65" y1="571.6" x2="377.95" y2="571.6" stroke="#444" stroke-width="0.8"/>
<line x1="369.65" y1="576.8" x2="377.95" y2="576.8" stroke="#444" stroke-width="0.8"/>
<path d="M370.6 567.05L372.75 569.2L370.6 571.35L368.45 569.2Z" fill="#8fb2d6"/>
<path d="M376 565.95L378.15 568.1L376 570.25L373.85 568.1Z" fill="#8fb2d6"/>
<path d="M369.4 570.65L371.55 572.8L369.4 574.95L367.25 572.8Z" fill="#8fb2d6"/>
<path d="M378.4 569.95L380.55 572.1L378.4 574.25L376.25 572.1Z" fill="#8fb2d6"/>
<path d="M373.7 573.65L375.85 575.8L373.7 577.95L371.55 575.8Z" fill="#8fb2d6"/>
<path d="M374.2 580.75L376.35 582.9L374.2 585.05L372.05 582.9Z" fill="#8fb2d6"/>
<line x1="386.7" y1="582.7" x2="400.1" y2="582.7" stroke="#444" stroke-width="0.9"/>
<line x1="393.4" y1="578.7" x2="393.4" y2="585.8" stroke="#444" stroke-width="0.8"/>
<line x1="389.25" y1="578.7" x2="397.55" y2="578.7" stroke="#444" stroke-width="0.8"/>
<line x1="389.25" y1="585.8" x2="397.55" y2="585.8" stroke="#444" stroke-width="0.8"/>
<path d="M393.5 571.35L395.65 573.5L393.5 575.65L391.35 573.5Z" fill="#4a7fb6"/>
<path d="M388.8 577.05L390.95 579.2L388.8 581.35L386.65 579.2Z" fill="#4a7fb6"/>
<path d="M397.3 576.05L399.45 578.2L397.3 580.35L395.15 578.2Z" fill="#4a7fb6"/>
<path d="M393 577.05L395.15 579.2L393 581.35L390.85 579.2Z" fill="#4a7fb6"/>
<path d="M395.8 587.85L397.95 590L395.8 592.15L393.65 590Z" fill="#4a7fb6"/>
<path d="M390.7 591.85L392.85 594L390.7 596.15L388.55 594Z" fill="#4a7fb6"/>
<line x1="406.5" y1="568.8" x2="419.7" y2="568.8" stroke="#444" stroke-width="0.9"/>
<line x1="413.1" y1="561.7" x2="413.1" y2="575.8" stroke="#444" stroke-width="0.8"/>
<line x1="409.01" y1="561.7" x2="417.19" y2="561.7" stroke="#444" stroke-width="0.8"/>
<line x1="409.01" y1="575.8" x2="417.19" y2="575.8" stroke="#444" stroke-width="0.8"/>
<path d="M410.2 550.55L412.35 552.7L410.2 554.85L408.05 552.7Z" fill="#1a4f8a"/>
<path d="M418.3 555.35L420.45 557.5L418.3 559.65L416.15 557.5Z" fill="#1a4f8a"/>
<path d="M415.4 559.55L417.55 561.7L415.4 563.85L413.25 561.7Z" fill="#1a4f8a"/>
<path d="M410.2 561.65L412.35 563.8L410.2 565.95L408.05 563.8Z" fill="#1a4f8a"/>
<path d="M413.3 575.35L415.45 577.5L413.3 579.65L411.15 577.5Z" fill="#1a4f8a"/>
<path d="M413.3 597.25L415.45 599.4L413.3 601.55L411.15 599.4Z" fill="#1a4f8a"/>
<circle cx="440.4" cy="553" r="1.4" fill="#e88a9c"/>
<text x="444.7" y="555.5" font-size="6.83" text-anchor="start" fill="#231f20" color="#231f20" textLength="30" lengthAdjust="spacingAndGlyphs">Untreated</text>
<circle cx="440.4" cy="562.5" r="1.4" fill="#d8405e"/>
<text x="444.7" y="565" font-size="7.63" text-anchor="start" fill="#231f20" color="#231f20" textLength="14" lengthAdjust="spacingAndGlyphs">C34</text>
<circle cx="440.4" cy="571.7" r="1.4" fill="#c00a26"/>
<text x="444.7" y="574.2" font-size="7.33" text-anchor="start" fill="#231f20" color="#231f20" textLength="32" lengthAdjust="spacingAndGlyphs">C34 + IL6</text>
<path d="M440.4 579.8L442.1 581.5L440.4 583.2L438.7 581.5Z" fill="#8fb2d6"/>
<text x="444.7" y="584" font-size="6.83" text-anchor="start" fill="#231f20" color="#231f20" textLength="30" lengthAdjust="spacingAndGlyphs">Untreated</text>
<path d="M440.4 589.9L442.1 591.6L440.4 593.3L438.7 591.6Z" fill="#4a7fb6"/>
<text x="444.7" y="594.1" font-size="7.63" text-anchor="start" fill="#231f20" color="#231f20" textLength="14" lengthAdjust="spacingAndGlyphs">C34</text>
<path d="M440.4 599.7L442.1 601.4L440.4 603.1L438.7 601.4Z" fill="#1a4f8a"/>
<text x="444.7" y="603.9" font-size="7.33" text-anchor="start" fill="#231f20" color="#231f20" textLength="32" lengthAdjust="spacingAndGlyphs">C34 + IL6</text>
<line x1="480.5" y1="550.4" x2="480.5" y2="574.6" stroke="#555" stroke-width="0.8"/>
<line x1="480.5" y1="578.4" x2="480.5" y2="604.4" stroke="#555" stroke-width="0.8"/>
<text x="482.8" y="565.2" font-size="7.4" text-anchor="start" fill="#231f20" color="#231f20" textLength="29.2" lengthAdjust="spacingAndGlyphs">HD MSC</text>
<text x="482.8" y="594.1" font-size="7.39" text-anchor="start" fill="#231f20" color="#231f20" textLength="30.8" lengthAdjust="spacingAndGlyphs">MM MSC</text>
<rect x="0.5" y="0.5" width="519" height="673" fill="none" stroke="#1a1a1a" stroke-width="1.2"/>
</svg>
</body></html>
